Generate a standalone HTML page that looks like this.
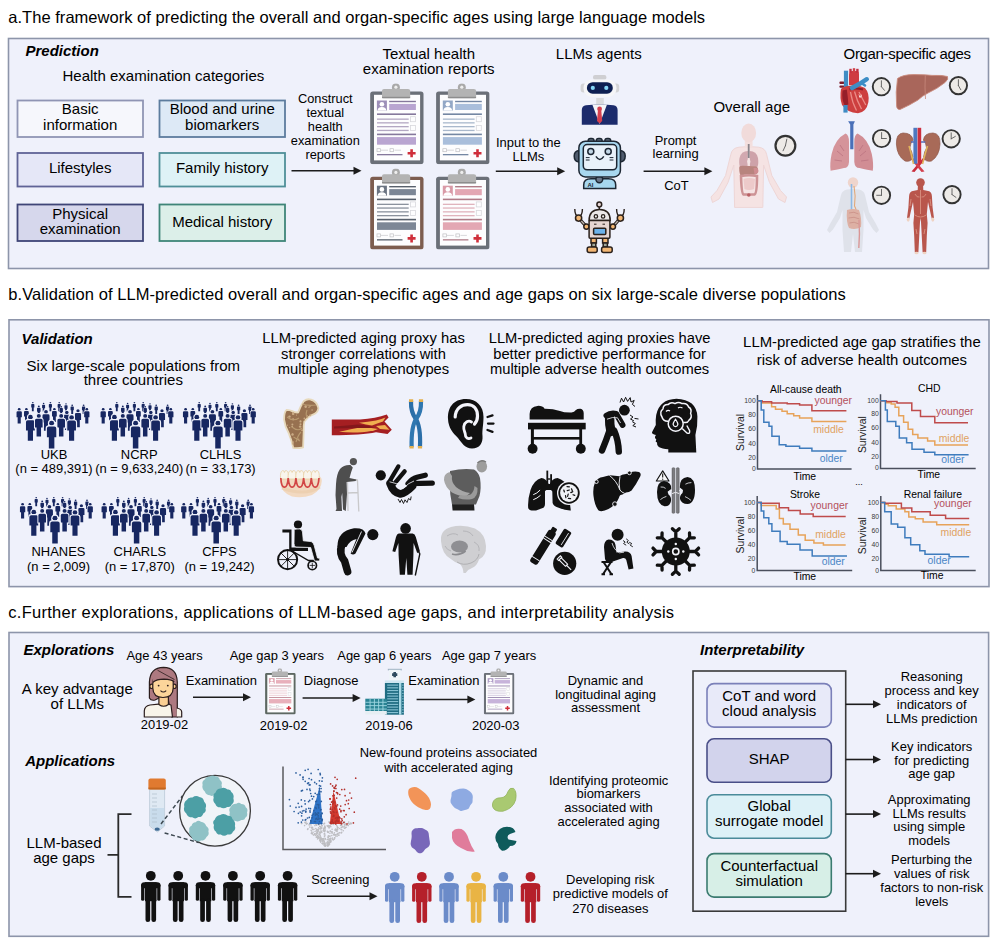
<!DOCTYPE html>
<html><head><meta charset="utf-8"><style>
html,body{margin:0;padding:0;background:#fff;overflow:hidden;}
svg{display:block;font-family:"Liberation Sans", sans-serif;}
</style></head><body>
<svg width="1000" height="947" viewBox="0 0 1000 947">
<defs>
<symbol id="person" viewBox="-20 0 40 100" overflow="visible" stroke="#eff1fb" stroke-width="9" paint-order="stroke">
 <circle cx="0" cy="9" r="9"/>
 <path d="M-17,28 Q-17,21 -10,21 L10,21 Q17,21 17,28 L17,60 L10,60 L10,100 L-10,100 L-10,60 L-17,60 Z"/>
</symbol>
</defs>
<text x="8.3" y="22.8" font-size="16.5" textLength="696.8" lengthAdjust="spacing">a.The framework of predicting the overall and organ-specific ages using large language models</text>
<text x="8.3" y="299.6" font-size="16.5" textLength="837.5" lengthAdjust="spacing">b.Validation of LLM-predicted overall and organ-specific ages and age gaps on six large-scale diverse populations</text>
<text x="8.3" y="617.8" font-size="16.5" textLength="665.8" lengthAdjust="spacing">c.Further explorations, applications of LLM-based age gaps, and interpretability analysis</text>
<rect x="8.5" y="38.5" width="980.0" height="230.0" fill="#eff1fb" stroke="#8d95aa" stroke-width="1.6"/>
<rect x="9" y="319.8" width="980" height="266.8" fill="#eff1fb" stroke="#8d95aa" stroke-width="1.6"/>
<rect x="9" y="632.5" width="979.6" height="303.79999999999995" fill="#eff1fb" stroke="#8d95aa" stroke-width="1.6"/>
<text x="25.5" y="56.4" font-size="15.0" font-weight="bold" font-style="italic">Prediction</text>
<text x="163.4" y="81.0" font-size="15.0" text-anchor="middle">Health examination categories</text>
<rect x="17.5" y="100.5" width="125.5" height="36.5" fill="#f6f7fc" stroke="#9095b4" stroke-width="1.8"/>
<text x="80.2" y="114.3" font-size="15.0" text-anchor="middle">Basic</text>
<text x="80.2" y="129.8" font-size="15.0" text-anchor="middle">information</text>
<rect x="159.5" y="100.5" width="125.5" height="36.5" fill="#dde9f6" stroke="#5d7c9e" stroke-width="1.8"/>
<text x="222.2" y="114.3" font-size="15.0" text-anchor="middle">Blood and urine</text>
<text x="222.2" y="129.8" font-size="15.0" text-anchor="middle">biomarkers</text>
<rect x="17.5" y="153" width="125.5" height="33.5" fill="#e5e7f7" stroke="#5f6396" stroke-width="1.8"/>
<text x="80.2" y="173.2" font-size="15.0" text-anchor="middle">Lifestyles</text>
<rect x="159.5" y="153" width="125.5" height="33.5" fill="#def2f6" stroke="#4f8f98" stroke-width="1.8"/>
<text x="222.2" y="173.2" font-size="15.0" text-anchor="middle">Family history</text>
<rect x="17.5" y="204.5" width="125.5" height="36.5" fill="#d6d7ec" stroke="#3f4577" stroke-width="1.8"/>
<text x="80.2" y="219.0" font-size="15.0" text-anchor="middle">Physical</text>
<text x="80.2" y="234.2" font-size="15.0" text-anchor="middle">examination</text>
<rect x="159.5" y="204.5" width="125.5" height="36.5" fill="#dcefe9" stroke="#3f8578" stroke-width="1.8"/>
<text x="222.2" y="226.7" font-size="15.0" text-anchor="middle">Medical history</text>
<text x="325.3" y="102.8" font-size="12.8" text-anchor="middle">Construct</text>
<text x="325.3" y="116.8" font-size="12.8" text-anchor="middle">textual</text>
<text x="325.3" y="130.7" font-size="12.8" text-anchor="middle">health</text>
<text x="325.3" y="144.6" font-size="12.8" text-anchor="middle">examination</text>
<text x="325.3" y="158.6" font-size="12.8" text-anchor="middle">reports</text>
<line x1="291.5" y1="170.8" x2="354.5" y2="170.8" stroke="#1c1c1c" stroke-width="1.6"/>
<path d="M361.5,170.8 L353.5,166.8 L353.5,174.8 Z" fill="#1c1c1c"/>
<text x="428.7" y="58.6" font-size="15.0" text-anchor="middle">Textual health</text>
<text x="428.7" y="74.3" font-size="15.0" text-anchor="middle">examination reports</text>
<text x="598.8" y="59.2" font-size="15.0" text-anchor="middle">LLMs agents</text>
<text x="528.4" y="147.2" font-size="12.95" text-anchor="middle">Input to the</text>
<text x="528.4" y="161.0" font-size="12.95" text-anchor="middle">LLMs</text>
<line x1="495.8" y1="171.2" x2="558.2" y2="171.2" stroke="#1c1c1c" stroke-width="1.6"/>
<path d="M565.2,171.2 L557.2,167.2 L557.2,175.2 Z" fill="#1c1c1c"/>
<text x="675.6" y="145.0" font-size="12.95" text-anchor="middle">Prompt</text>
<text x="675.6" y="158.4" font-size="12.95" text-anchor="middle">learning</text>
<line x1="643.6" y1="171.2" x2="705.4" y2="171.2" stroke="#1c1c1c" stroke-width="1.6"/>
<path d="M712.4,171.2 L704.4,167.2 L704.4,175.2 Z" fill="#1c1c1c"/>
<text x="676.4" y="190.4" font-size="12.95" text-anchor="middle">CoT</text>
<text x="751.8" y="112.0" font-size="15.0" text-anchor="middle">Overall age</text>
<text x="843.6" y="58.7" font-size="15.0" textLength="127.3" lengthAdjust="spacing">Organ-specific ages</text>
<text x="21.6" y="343.5" font-size="15.0" font-weight="bold" font-style="italic">Validation</text>
<text x="133.3" y="370.8" font-size="15.0" text-anchor="middle">Six large-scale populations from</text>
<text x="133.3" y="385.4" font-size="15.0" text-anchor="middle">three countries</text>
<text x="363.5" y="343.4" font-size="14.75" text-anchor="middle">LLM-predicted aging proxy has</text>
<text x="363.5" y="358.5" font-size="14.75" text-anchor="middle">stronger correlations with</text>
<text x="363.5" y="373.6" font-size="14.75" text-anchor="middle">multiple aging phenotypes</text>
<text x="599.6" y="343.4" font-size="14.72" text-anchor="middle">LLM-predicted aging proxies have</text>
<text x="599.6" y="358.5" font-size="14.72" text-anchor="middle">better predictive performance for</text>
<text x="599.6" y="373.6" font-size="14.72" text-anchor="middle">multiple adverse health outcomes</text>
<text x="861.9" y="346.8" font-size="14.9" text-anchor="middle">LLM-predicted age gap stratifies the</text>
<text x="861.9" y="364.6" font-size="14.9" text-anchor="middle">risk of adverse health outcomes</text>
<text x="54.0" y="458.5" font-size="12.95" text-anchor="middle">UKB</text>
<text x="54.0" y="472.9" font-size="12.95" text-anchor="middle">(n = 489,391)</text>
<text x="139.2" y="458.5" font-size="12.95" text-anchor="middle">NCRP</text>
<text x="139.2" y="472.9" font-size="12.95" text-anchor="middle">(n = 9,633,240)</text>
<text x="220.6" y="458.5" font-size="12.95" text-anchor="middle">CLHLS</text>
<text x="220.6" y="472.9" font-size="12.95" text-anchor="middle">(n = 33,173)</text>
<text x="58.5" y="556.3" font-size="12.95" text-anchor="middle">NHANES</text>
<text x="58.5" y="570.7" font-size="12.95" text-anchor="middle">(n = 2,009)</text>
<text x="139.8" y="556.3" font-size="12.95" text-anchor="middle">CHARLS</text>
<text x="139.8" y="570.7" font-size="12.95" text-anchor="middle">(n = 17,870)</text>
<text x="219.5" y="556.3" font-size="12.95" text-anchor="middle">CFPS</text>
<text x="219.5" y="570.7" font-size="12.95" text-anchor="middle">(n = 19,242)</text>
<text x="23.4" y="655.1" font-size="15.0" font-weight="bold" font-style="italic">Explorations</text>
<text x="164.5" y="660.3" font-size="12.95" text-anchor="middle">Age 43 years</text>
<text x="77.3" y="694.1" font-size="15.0" text-anchor="middle">A key advantage</text>
<text x="77.3" y="708.9" font-size="15.0" text-anchor="middle">of LLMs</text>
<text x="164.5" y="729.2" font-size="12.95" text-anchor="middle">2019-02</text>
<text x="221.4" y="685.0" font-size="12.95" text-anchor="middle">Examination</text>
<line x1="193" y1="697.2" x2="244" y2="697.2" stroke="#1c1c1c" stroke-width="1.6"/>
<path d="M251,697.2 L243,693.2 L243,701.2 Z" fill="#1c1c1c"/>
<text x="276.8" y="660.0" font-size="12.95" text-anchor="middle">Age gap 3 years</text>
<text x="283.6" y="730.0" font-size="12.95" text-anchor="middle">2019-02</text>
<text x="331.2" y="684.6" font-size="12.95" text-anchor="middle">Diagnose</text>
<line x1="302.6" y1="698" x2="353.6" y2="698" stroke="#1c1c1c" stroke-width="1.6"/>
<path d="M360.6,698 L352.6,694 L352.6,702 Z" fill="#1c1c1c"/>
<text x="384.4" y="659.6" font-size="12.95" text-anchor="middle">Age gap 6 years</text>
<text x="389.0" y="730.0" font-size="12.95" text-anchor="middle">2019-06</text>
<text x="443.9" y="684.6" font-size="12.95" text-anchor="middle">Examination</text>
<line x1="416.6" y1="699.5" x2="468.4" y2="699.5" stroke="#1c1c1c" stroke-width="1.6"/>
<path d="M475.4,699.5 L467.4,695.5 L467.4,703.5 Z" fill="#1c1c1c"/>
<text x="489.1" y="659.8" font-size="12.95" text-anchor="middle">Age gap 7 years</text>
<text x="495.7" y="730.0" font-size="12.95" text-anchor="middle">2020-03</text>
<text x="605.5" y="685.0" font-size="12.95" text-anchor="middle">Dynamic and</text>
<text x="605.5" y="698.7" font-size="12.95" text-anchor="middle">longitudinal aging</text>
<text x="605.5" y="712.4" font-size="12.95" text-anchor="middle">assessment</text>
<text x="700.0" y="655.1" font-size="15.0" font-weight="bold" font-style="italic">Interpretability</text>
<rect x="693" y="671" width="152.7" height="240.2" fill="none" stroke="#3a3a3a" stroke-width="1.6"/>
<rect x="707" y="683.6" width="124.3" height="43.5" rx="7" fill="#e8eaf9" stroke="#7b80b9" stroke-width="1.6"/>
<text x="769.2" y="700.7" font-size="15.0" text-anchor="middle">CoT and word</text>
<text x="769.2" y="715.8" font-size="15.0" text-anchor="middle">cloud analysis</text>
<rect x="707" y="738.8" width="124.3" height="43.5" rx="7" fill="#d2d3ec" stroke="#4a4f88" stroke-width="1.6"/>
<text x="769.2" y="764.0" font-size="15.0" text-anchor="middle">SHAP</text>
<rect x="707" y="794.7" width="124.3" height="43.5" rx="7" fill="#ddf1f7" stroke="#4b8b9a" stroke-width="1.6"/>
<text x="769.2" y="811.4" font-size="15.0" text-anchor="middle">Global</text>
<text x="769.2" y="825.8" font-size="15.0" text-anchor="middle">surrogate model</text>
<rect x="707" y="853.6" width="124.3" height="43.5" rx="7" fill="#d7efe7" stroke="#3b7b70" stroke-width="1.6"/>
<text x="769.2" y="871.0" font-size="15.0" text-anchor="middle">Counterfactual</text>
<text x="769.2" y="886.0" font-size="15.0" text-anchor="middle">simulation</text>
<line x1="845.7" y1="704.3" x2="874" y2="704.3" stroke="#1c1c1c" stroke-width="1.6"/>
<path d="M881,704.3 L873,700.3 L873,708.3 Z" fill="#1c1c1c"/>
<line x1="845.7" y1="759.5" x2="874" y2="759.5" stroke="#1c1c1c" stroke-width="1.6"/>
<path d="M881,759.5 L873,755.5 L873,763.5 Z" fill="#1c1c1c"/>
<line x1="845.7" y1="814.1" x2="874" y2="814.1" stroke="#1c1c1c" stroke-width="1.6"/>
<path d="M881,814.1 L873,810.1 L873,818.1 Z" fill="#1c1c1c"/>
<line x1="845.7" y1="873.7" x2="874" y2="873.7" stroke="#1c1c1c" stroke-width="1.6"/>
<path d="M881,873.7 L873,869.7 L873,877.7 Z" fill="#1c1c1c"/>
<text x="931.7" y="681.0" font-size="12.95" text-anchor="middle">Reasoning</text>
<text x="931.7" y="695.0" font-size="12.95" text-anchor="middle">process and key</text>
<text x="931.7" y="708.9" font-size="12.95" text-anchor="middle">indicators of</text>
<text x="931.7" y="722.9" font-size="12.95" text-anchor="middle">LLMs prediction</text>
<text x="931.7" y="751.2" font-size="12.95" text-anchor="middle">Key indicators</text>
<text x="931.7" y="764.6" font-size="12.95" text-anchor="middle">for predicting</text>
<text x="931.7" y="778.0" font-size="12.95" text-anchor="middle">age gap</text>
<text x="929.2" y="804.3" font-size="12.95" text-anchor="middle">Approximating</text>
<text x="929.2" y="817.8" font-size="12.95" text-anchor="middle">LLMs results</text>
<text x="929.2" y="831.4" font-size="12.95" text-anchor="middle">using simple</text>
<text x="929.2" y="844.9" font-size="12.95" text-anchor="middle">models</text>
<text x="931.7" y="864.3" font-size="12.95" text-anchor="middle">Perturbing the</text>
<text x="931.7" y="878.3" font-size="12.95" text-anchor="middle">values of risk</text>
<text x="931.7" y="892.3" font-size="12.95" text-anchor="middle">factors to non-risk</text>
<text x="931.7" y="906.3" font-size="12.95" text-anchor="middle">levels</text>
<text x="25.2" y="766.3" font-size="15.0" font-weight="bold" font-style="italic">Applications</text>
<text x="448.5" y="756.8" font-size="12.95" text-anchor="middle">New-found proteins associated</text>
<text x="448.5" y="771.5" font-size="12.95" text-anchor="middle">with accelerated aging</text>
<text x="608.6" y="784.6" font-size="12.95" text-anchor="middle">Identifying proteomic</text>
<text x="608.6" y="798.3" font-size="12.95" text-anchor="middle">biomarkers</text>
<text x="608.6" y="812.0" font-size="12.95" text-anchor="middle">associated with</text>
<text x="608.6" y="825.7" font-size="12.95" text-anchor="middle">accelerated aging</text>
<text x="64.0" y="847.8" font-size="15.0" text-anchor="middle">LLM-based</text>
<text x="64.0" y="862.5" font-size="15.0" text-anchor="middle">age gaps</text>
<text x="340.3" y="883.8" font-size="12.95" text-anchor="middle">Screening</text>
<line x1="307" y1="896.2" x2="370.5" y2="896.2" stroke="#1c1c1c" stroke-width="1.6"/>
<path d="M377.5,896.2 L369.5,892.2 L369.5,900.2 Z" fill="#1c1c1c"/>
<text x="610.3" y="884.3" font-size="12.95" text-anchor="middle">Developing risk</text>
<text x="610.3" y="898.4" font-size="12.95" text-anchor="middle">predictive models of</text>
<text x="610.3" y="912.5" font-size="12.95" text-anchor="middle">270 diseases</text>
<path d="M107.5,854.8 L118.3,854.8 M131.5,814.2 L118.3,814.2 L118.3,896.8 L131.5,896.8" fill="none" stroke="#2a2a2a" stroke-width="1.8"/>
<defs>
<g id="man">
 <circle cx="0" cy="0" r="4.9"/>
 <rect x="-9.7" y="6.4" width="19.4" height="6" rx="3.2"/>
 <rect x="-9.7" y="8" width="3.3" height="17" rx="1.65"/>
 <rect x="6.4" y="8" width="3.3" height="17" rx="1.65"/>
 <rect x="-5.8" y="6.4" width="11.6" height="19"/>
 <rect x="-5.3" y="23" width="4.7" height="23.2" rx="2.3"/>
 <rect x="0.6" y="23" width="4.7" height="23.2" rx="2.3"/>
</g>
</defs>
<use href="#man" x="150.8" y="875.8" fill="#111"/>
<use href="#man" x="178.2" y="875.8" fill="#111"/>
<use href="#man" x="205.5" y="875.8" fill="#111"/>
<use href="#man" x="232.9" y="875.8" fill="#111"/>
<use href="#man" x="260.2" y="875.8" fill="#111"/>
<use href="#man" x="287.6" y="875.8" fill="#111"/>
<use href="#man" x="394.7" y="876.8" fill="#6b8bc9"/>
<use href="#man" x="421.8" y="876.8" fill="#b5202a"/>
<use href="#man" x="449.0" y="876.8" fill="#6b8bc9"/>
<use href="#man" x="476.1" y="876.8" fill="#e9b444"/>
<use href="#man" x="503.3" y="876.8" fill="#6b8bc9"/>
<use href="#man" x="530.5" y="876.8" fill="#b5202a"/>
<defs><g id="crowd"><use href="#person" x="16.96" y="4.00" width="3.68" height="9.20"/><use href="#person" x="27.84" y="4.80" width="3.52" height="8.80"/><use href="#person" x="34.56" y="4.00" width="3.68" height="9.20"/><use href="#person" x="43.36" y="4.00" width="3.68" height="9.20"/><use href="#person" x="50.16" y="5.20" width="3.68" height="9.20"/><use href="#person" x="67.68" y="6.40" width="3.84" height="9.60"/><use href="#person" x="22.72" y="7.60" width="4.16" height="10.40"/><use href="#person" x="56.28" y="6.40" width="3.84" height="9.60"/><use href="#person" x="45.20" y="8.00" width="4.00" height="10.00"/><use href="#person" x="2.08" y="10.00" width="6.24" height="15.60"/><use href="#person" x="9.60" y="10.00" width="5.60" height="14.00"/><use href="#person" x="37.60" y="10.00" width="5.60" height="14.00"/><use href="#person" x="69.68" y="10.00" width="6.24" height="15.60"/><use href="#person" x="27.84" y="12.00" width="8.32" height="20.80"/><use href="#person" x="48.96" y="12.80" width="7.68" height="19.20"/><use href="#person" x="60.40" y="11.20" width="7.20" height="18.00"/><use href="#person" x="11.20" y="16.80" width="10.40" height="26.00"/><use href="#person" x="20.32" y="16.00" width="8.96" height="22.40"/><use href="#person" x="42.72" y="16.00" width="8.96" height="22.40"/><use href="#person" x="52.48" y="17.20" width="10.24" height="25.60"/><use href="#person" x="32.08" y="22.80" width="11.04" height="27.60"/></g></defs>
<use href="#crowd" transform="translate(14,398)" fill="#172761"/>
<use href="#crowd" transform="translate(98,398)" fill="#172761"/>
<use href="#crowd" transform="translate(180.4,398)" fill="#172761"/>
<use href="#crowd" transform="translate(17.4,493)" fill="#172761"/>
<use href="#crowd" transform="translate(99,493)" fill="#172761"/>
<use href="#crowd" transform="translate(178.6,493)" fill="#172761"/>
<path d="M757.5,395 V469 H851.6" fill="none" stroke="#4a4f5c" stroke-width="1.5"/>
<text x="755.7" y="403.2" font-size="6.8" text-anchor="end" fill="#3a3a3a">100</text>
<text x="755.7" y="417.3" font-size="6.8" text-anchor="end" fill="#3a3a3a">80</text>
<text x="755.7" y="431.2" font-size="6.8" text-anchor="end" fill="#3a3a3a">60</text>
<text x="755.7" y="446.1" font-size="6.8" text-anchor="end" fill="#3a3a3a">40</text>
<text x="755.7" y="459.8" font-size="6.8" text-anchor="end" fill="#3a3a3a">20</text>
<text x="755.7" y="470.8" font-size="6.8" text-anchor="end" fill="#3a3a3a">0</text>
<text x="805.8" y="392.7" font-size="10.4" text-anchor="middle">All-cause death</text>
<text x="804.8" y="479.5" font-size="10.4" text-anchor="middle">Time</text>
<text x="0" y="0" font-size="10.4" text-anchor="middle" fill="#1c1c1c" transform="translate(743.8,432.5) rotate(-90)">Survival</text>
<path d="M757.5,400.8 H761.9 V403.0 H771.6 V406.7 H775.5 V409.3 H782.0 V411.2 H787.2 V413.8 H793.7 V415.8 H799.6 V418.0 H811.9 V421.4 H846.4" fill="none" stroke="#e7a35a" stroke-width="1.5" stroke-linejoin="miter"/>
<path d="M757.5,400.8 H761.9 V401.8 H771.6 V402.9 H787.2 V403.8 H799.6 V404.9 H811.9 V410.8 H846.4" fill="none" stroke="#bf4b4b" stroke-width="1.5" stroke-linejoin="miter"/>
<path d="M757.5,400.8 H761.2 V409.9 H763.8 V422.3 H769.0 V426.2 H771.9 V436.2 H779.2 V444.8 H785.9 V446.3 H799.6 V448.3 H811.9 V450.9 H846.4" fill="none" stroke="#3f7cbd" stroke-width="1.5" stroke-linejoin="miter"/>
<text x="814.5" y="404.0" font-size="10.4" fill="#b4505c">younger</text>
<text x="813.2" y="433.3" font-size="10.4" fill="#e0a262">middle</text>
<text x="819.7" y="462.2" font-size="10.4" fill="#4a86c6">older</text>
<path d="M880.5,394.3 V468.4 H975.7" fill="none" stroke="#4a4f5c" stroke-width="1.5"/>
<text x="878.7" y="403.2" font-size="6.8" text-anchor="end" fill="#3a3a3a">100</text>
<text x="878.7" y="416.4" font-size="6.8" text-anchor="end" fill="#3a3a3a">80</text>
<text x="878.7" y="430.4" font-size="6.8" text-anchor="end" fill="#3a3a3a">60</text>
<text x="878.7" y="444.8" font-size="6.8" text-anchor="end" fill="#3a3a3a">40</text>
<text x="878.7" y="459.1" font-size="6.8" text-anchor="end" fill="#3a3a3a">20</text>
<text x="878.7" y="469.8" font-size="6.8" text-anchor="end" fill="#3a3a3a">0</text>
<text x="929.3" y="391.7" font-size="10.4" text-anchor="middle">CHD</text>
<text x="928.8" y="478.2" font-size="10.4" text-anchor="middle">Time</text>
<text x="0" y="0" font-size="10.4" text-anchor="middle" fill="#1c1c1c" transform="translate(866.4,434.6) rotate(-90)">Survival</text>
<path d="M880.5,400.8 H886.0 V402.8 H891.2 V404.0 H895.1 V407.3 H898.8 V415.8 H903.6 V422.3 H908.1 V429.2 H912.7 V434.4 H917.9 V437.9 H927.6 V441.1 H934.8 V445.0 H968.0" fill="none" stroke="#e7a35a" stroke-width="1.5" stroke-linejoin="miter"/>
<path d="M880.5,400.8 H886.0 V401.5 H897.0 V403.1 H911.8 V410.6 H920.5 V416.4 H934.8 V422.7 H968.0" fill="none" stroke="#bf4b4b" stroke-width="1.5" stroke-linejoin="miter"/>
<path d="M880.5,400.8 H885.4 V409.9 H887.3 V421.6 H895.8 V426.2 H899.3 V437.9 H906.6 V442.7 H912.0 V449.2 H924.0 V452.2 H934.8 V454.8 H968.6" fill="none" stroke="#3f7cbd" stroke-width="1.5" stroke-linejoin="miter"/>
<text x="936.0" y="414.5" font-size="10.4" fill="#b4505c">younger</text>
<text x="938.7" y="442.2" font-size="10.4" fill="#e0a262">middle</text>
<text x="941.3" y="463.2" font-size="10.4" fill="#4a86c6">older</text>
<path d="M757.2,496 V570.6 H852.2" fill="none" stroke="#4a4f5c" stroke-width="1.5"/>
<text x="755.4" y="505.0" font-size="6.8" text-anchor="end" fill="#3a3a3a">100</text>
<text x="755.4" y="518.9" font-size="6.8" text-anchor="end" fill="#3a3a3a">80</text>
<text x="755.4" y="532.7" font-size="6.8" text-anchor="end" fill="#3a3a3a">60</text>
<text x="755.4" y="547.2" font-size="6.8" text-anchor="end" fill="#3a3a3a">40</text>
<text x="755.4" y="560.9" font-size="6.8" text-anchor="end" fill="#3a3a3a">20</text>
<text x="755.4" y="572.6" font-size="6.8" text-anchor="end" fill="#3a3a3a">0</text>
<text x="804.9" y="497.6" font-size="10.4" text-anchor="middle">Stroke</text>
<text x="804.8" y="580.0" font-size="10.4" text-anchor="middle">Time</text>
<text x="0" y="0" font-size="10.4" text-anchor="middle" fill="#1c1c1c" transform="translate(743.8,535) rotate(-90)">Survival</text>
<path d="M757.2,502.6 H761.2 V505.5 H776.2 V509.1 H779.4 V518.5 H783.3 V524.0 H790.0 V529.2 H798.3 V535.1 H805.2 V540.3 H813.9 V542.9 H823.4 V545.1 H845.7" fill="none" stroke="#e7a35a" stroke-width="1.5" stroke-linejoin="miter"/>
<path d="M757.2,502.6 H761.2 V503.2 H779.2 V507.8 H788.5 V510.4 H800.2 V513.9 H813.2 V516.6 H845.7" fill="none" stroke="#bf4b4b" stroke-width="1.5" stroke-linejoin="miter"/>
<path d="M757.2,502.6 H761.2 V511.0 H763.8 V517.8 H768.8 V523.8 H771.9 V531.2 H780.1 V541.6 H787.2 V544.2 H800.0 V550.0 H812.2 V555.9 H847.0" fill="none" stroke="#3f7cbd" stroke-width="1.5" stroke-linejoin="miter"/>
<text x="810.6" y="509.0" font-size="10.4" fill="#b4505c">younger</text>
<text x="815.2" y="537.7" font-size="10.4" fill="#e0a262">middle</text>
<text x="821.7" y="565.0" font-size="10.4" fill="#4a86c6">older</text>
<path d="M880.8,496 V570.6 H975.7" fill="none" stroke="#4a4f5c" stroke-width="1.5"/>
<text x="879.0" y="505.0" font-size="6.8" text-anchor="end" fill="#3a3a3a">100</text>
<text x="879.0" y="518.6" font-size="6.8" text-anchor="end" fill="#3a3a3a">80</text>
<text x="879.0" y="532.9" font-size="6.8" text-anchor="end" fill="#3a3a3a">60</text>
<text x="879.0" y="547.2" font-size="6.8" text-anchor="end" fill="#3a3a3a">40</text>
<text x="879.0" y="561.3" font-size="6.8" text-anchor="end" fill="#3a3a3a">20</text>
<text x="879.0" y="572.6" font-size="6.8" text-anchor="end" fill="#3a3a3a">0</text>
<text x="932.8" y="497.7" font-size="10.4" text-anchor="middle">Renal failure</text>
<text x="932.2" y="579.3" font-size="10.4" text-anchor="middle">Time</text>
<text x="0" y="0" font-size="10.4" text-anchor="middle" fill="#1c1c1c" transform="translate(866.4,535.7) rotate(-90)">Survival</text>
<path d="M880.8,502.6 H884.7 V504.2 H888.3 V505.8 H896.2 V509.0 H904.9 V511.7 H908.8 V516.9 H915.3 V518.8 H923.1 V522.1 H936.7 V524.7 H969.2" fill="none" stroke="#e7a35a" stroke-width="1.5" stroke-linejoin="miter"/>
<path d="M880.8,502.6 H884.7 V503.2 H901.4 V508.1 H911.8 V511.7 H930.2 V515.2 H945.6 V518.5 H969.2" fill="none" stroke="#bf4b4b" stroke-width="1.5" stroke-linejoin="miter"/>
<path d="M880.8,502.6 H884.7 V511.7 H891.2 V524.0 H897.7 V527.3 H904.9 V537.7 H910.7 V544.8 H919.8 V550.7 H925.0 V554.2 H949.1 V556.8 H969.2" fill="none" stroke="#3f7cbd" stroke-width="1.5" stroke-linejoin="miter"/>
<text x="934.1" y="506.8" font-size="10.4" fill="#b4505c">younger</text>
<text x="940.6" y="536.4" font-size="10.4" fill="#e0a262">middle</text>
<text x="927.6" y="563.7" font-size="10.4" fill="#4a86c6">older</text>
<text x="859.0" y="485.0" font-size="9" text-anchor="middle">...</text>
<defs><symbol id="cbP" viewBox="5 5 54 81"><rect x="5.2" y="13.3" width="53.3" height="72.7" rx="2.6" fill="#6b7078"/><rect x="9" y="16.6" width="46.1" height="65.6" fill="#fdfdfe"/><circle cx="30.9" cy="9.2" r="4" fill="#a9a9a9"/><circle cx="30.9" cy="9" r="1.6" fill="#eeeeee"/><path d="M17,12.5 Q17,10.8 19,10.8 L43,10.8 Q45.2,10.8 45.2,12.5 L45.2,18.5 Q45.2,20 43.5,20 L18.7,20 Q17,20 17,18.5 Z" fill="#b3b3b3"/><rect x="17" y="18.6" width="28.2" height="1.4" fill="#8d8d8d"/><rect x="11.9" y="22.3" width="10" height="10" fill="#9d8fb8"/><circle cx="16.9" cy="26" r="2.3" fill="#fff"/><path d="M12.6,32.3 Q12.6,28.8 16.9,28.8 Q21.2,28.8 21.2,32.3 Z" fill="#fff"/><rect x="24.2" y="22.6" width="26.7" height="1.4" fill="#85789c"/><rect x="24.2" y="25.7" width="26.7" height="6.1" fill="#b9a5d1"/><rect x="12" y="35.2" width="39" height="1.6" fill="#85789c"/><rect x="12" y="40.3" width="31.7" height="1.3" fill="#b3a7c3"/><rect x="12" y="44" width="31.7" height="1.3" fill="#b3a7c3"/><rect x="12" y="47.8" width="31.7" height="1.3" fill="#b3a7c3"/><rect x="12" y="51.6" width="31.7" height="1.3" fill="#b3a7c3"/><rect x="45.4" y="38.5" width="5" height="5" fill="none" stroke="#d8d8dc" stroke-width="0.8"/><rect x="45.4" y="47.2" width="5" height="5" fill="none" stroke="#d8d8dc" stroke-width="0.8"/><rect x="12" y="55.4" width="39" height="1.6" fill="#85789c"/><rect x="12" y="58.9" width="39" height="7.6" fill="#b9a5d1"/><rect x="12" y="70.5" width="3.5" height="3" fill="none" stroke="#c0c0c4" stroke-width="0.7"/><rect x="25" y="70.5" width="3.5" height="3" fill="none" stroke="#c0c0c4" stroke-width="0.7"/><path d="M16,72 H23 M29.5,72 H36" stroke="#c8c8cc" stroke-width="0.7"/><rect x="12" y="75.8" width="25.5" height="1.3" fill="#85789c"/><path d="M45.3,71 h2.6 v2.7 h2.7 v2.6 h-2.7 v2.7 h-2.6 v-2.7 h-2.7 v-2.6 h2.7 Z" fill="#cf2e3a"/></symbol><symbol id="cbB" viewBox="5 5 54 81"><rect x="5.2" y="13.3" width="53.3" height="72.7" rx="2.6" fill="#6b7078"/><rect x="9" y="16.6" width="46.1" height="65.6" fill="#fdfdfe"/><circle cx="30.9" cy="9.2" r="4" fill="#a9a9a9"/><circle cx="30.9" cy="9" r="1.6" fill="#eeeeee"/><path d="M17,12.5 Q17,10.8 19,10.8 L43,10.8 Q45.2,10.8 45.2,12.5 L45.2,18.5 Q45.2,20 43.5,20 L18.7,20 Q17,20 17,18.5 Z" fill="#b3b3b3"/><rect x="17" y="18.6" width="28.2" height="1.4" fill="#8d8d8d"/><rect x="11.9" y="22.3" width="10" height="10" fill="#93a8c6"/><circle cx="16.9" cy="26" r="2.3" fill="#fff"/><path d="M12.6,32.3 Q12.6,28.8 16.9,28.8 Q21.2,28.8 21.2,32.3 Z" fill="#fff"/><rect x="24.2" y="22.6" width="26.7" height="1.4" fill="#7487a3"/><rect x="24.2" y="25.7" width="26.7" height="6.1" fill="#a9bedb"/><rect x="12" y="35.2" width="39" height="1.6" fill="#7487a3"/><rect x="12" y="40.3" width="31.7" height="1.3" fill="#a9b8cc"/><rect x="12" y="44" width="31.7" height="1.3" fill="#a9b8cc"/><rect x="12" y="47.8" width="31.7" height="1.3" fill="#a9b8cc"/><rect x="12" y="51.6" width="31.7" height="1.3" fill="#a9b8cc"/><rect x="45.4" y="38.5" width="5" height="5" fill="none" stroke="#d8d8dc" stroke-width="0.8"/><rect x="45.4" y="47.2" width="5" height="5" fill="none" stroke="#d8d8dc" stroke-width="0.8"/><rect x="12" y="55.4" width="39" height="1.6" fill="#7487a3"/><rect x="12" y="58.9" width="39" height="7.6" fill="#a9bedb"/><rect x="12" y="70.5" width="3.5" height="3" fill="none" stroke="#c0c0c4" stroke-width="0.7"/><rect x="25" y="70.5" width="3.5" height="3" fill="none" stroke="#c0c0c4" stroke-width="0.7"/><path d="M16,72 H23 M29.5,72 H36" stroke="#c8c8cc" stroke-width="0.7"/><rect x="12" y="75.8" width="25.5" height="1.3" fill="#7487a3"/><path d="M45.3,71 h2.6 v2.7 h2.7 v2.6 h-2.7 v2.7 h-2.6 v-2.7 h-2.7 v-2.6 h2.7 Z" fill="#cf2e3a"/></symbol><symbol id="cbG" viewBox="5 5 54 81"><rect x="5.2" y="13.3" width="53.3" height="72.7" rx="2.6" fill="#7d5d4f"/><rect x="9" y="16.6" width="46.1" height="65.6" fill="#fdfdfe"/><circle cx="30.9" cy="9.2" r="4" fill="#a9a9a9"/><circle cx="30.9" cy="9" r="1.6" fill="#eeeeee"/><path d="M17,12.5 Q17,10.8 19,10.8 L43,10.8 Q45.2,10.8 45.2,12.5 L45.2,18.5 Q45.2,20 43.5,20 L18.7,20 Q17,20 17,18.5 Z" fill="#b3b3b3"/><rect x="17" y="18.6" width="28.2" height="1.4" fill="#8d8d8d"/><rect x="11.9" y="22.3" width="10" height="10" fill="#6b7482"/><circle cx="16.9" cy="26" r="2.3" fill="#fff"/><path d="M12.6,32.3 Q12.6,28.8 16.9,28.8 Q21.2,28.8 21.2,32.3 Z" fill="#fff"/><rect x="24.2" y="22.6" width="26.7" height="1.4" fill="#58606c"/><rect x="24.2" y="25.7" width="26.7" height="6.1" fill="#7d8796"/><rect x="12" y="35.2" width="39" height="1.6" fill="#58606c"/><rect x="12" y="40.3" width="31.7" height="1.3" fill="#8b929d"/><rect x="12" y="44" width="31.7" height="1.3" fill="#8b929d"/><rect x="12" y="47.8" width="31.7" height="1.3" fill="#8b929d"/><rect x="12" y="51.6" width="31.7" height="1.3" fill="#8b929d"/><rect x="45.4" y="38.5" width="5" height="5" fill="none" stroke="#d8d8dc" stroke-width="0.8"/><rect x="45.4" y="47.2" width="5" height="5" fill="none" stroke="#d8d8dc" stroke-width="0.8"/><rect x="12" y="55.4" width="39" height="1.6" fill="#58606c"/><rect x="12" y="58.9" width="39" height="7.6" fill="#7d8796"/><rect x="12" y="70.5" width="3.5" height="3" fill="none" stroke="#c0c0c4" stroke-width="0.7"/><rect x="25" y="70.5" width="3.5" height="3" fill="none" stroke="#c0c0c4" stroke-width="0.7"/><path d="M16,72 H23 M29.5,72 H36" stroke="#c8c8cc" stroke-width="0.7"/><rect x="12" y="75.8" width="25.5" height="1.3" fill="#58606c"/><path d="M45.3,71 h2.6 v2.7 h2.7 v2.6 h-2.7 v2.7 h-2.6 v-2.7 h-2.7 v-2.6 h2.7 Z" fill="#cf2e3a"/></symbol><symbol id="cbR" viewBox="5 5 54 81"><rect x="5.2" y="13.3" width="53.3" height="72.7" rx="2.6" fill="#6b7078"/><rect x="9" y="16.6" width="46.1" height="65.6" fill="#fdfdfe"/><circle cx="30.9" cy="9.2" r="4" fill="#a9a9a9"/><circle cx="30.9" cy="9" r="1.6" fill="#eeeeee"/><path d="M17,12.5 Q17,10.8 19,10.8 L43,10.8 Q45.2,10.8 45.2,12.5 L45.2,18.5 Q45.2,20 43.5,20 L18.7,20 Q17,20 17,18.5 Z" fill="#b3b3b3"/><rect x="17" y="18.6" width="28.2" height="1.4" fill="#8d8d8d"/><rect x="11.9" y="22.3" width="10" height="10" fill="#d99aa7"/><circle cx="16.9" cy="26" r="2.3" fill="#fff"/><path d="M12.6,32.3 Q12.6,28.8 16.9,28.8 Q21.2,28.8 21.2,32.3 Z" fill="#fff"/><rect x="24.2" y="22.6" width="26.7" height="1.4" fill="#b07c88"/><rect x="24.2" y="25.7" width="26.7" height="6.1" fill="#e3a7b3"/><rect x="12" y="35.2" width="39" height="1.6" fill="#b07c88"/><rect x="12" y="40.3" width="31.7" height="1.3" fill="#e0b4bd"/><rect x="12" y="44" width="31.7" height="1.3" fill="#e0b4bd"/><rect x="12" y="47.8" width="31.7" height="1.3" fill="#e0b4bd"/><rect x="12" y="51.6" width="31.7" height="1.3" fill="#e0b4bd"/><rect x="45.4" y="38.5" width="5" height="5" fill="none" stroke="#d8d8dc" stroke-width="0.8"/><rect x="45.4" y="47.2" width="5" height="5" fill="none" stroke="#d8d8dc" stroke-width="0.8"/><rect x="12" y="55.4" width="39" height="1.6" fill="#b07c88"/><rect x="12" y="58.9" width="39" height="7.6" fill="#e3a7b3"/><rect x="12" y="70.5" width="3.5" height="3" fill="none" stroke="#c0c0c4" stroke-width="0.7"/><rect x="25" y="70.5" width="3.5" height="3" fill="none" stroke="#c0c0c4" stroke-width="0.7"/><path d="M16,72 H23 M29.5,72 H36" stroke="#c8c8cc" stroke-width="0.7"/><rect x="12" y="75.8" width="25.5" height="1.3" fill="#b07c88"/><path d="M45.3,71 h2.6 v2.7 h2.7 v2.6 h-2.7 v2.7 h-2.6 v-2.7 h-2.7 v-2.6 h2.7 Z" fill="#cf2e3a"/></symbol><symbol id="cbR2" viewBox="5 5 54 81"><rect x="5.2" y="13.3" width="53.3" height="72.7" rx="2.6" fill="#5d6862"/><rect x="9" y="16.6" width="46.1" height="65.6" fill="#fdfdfe"/><circle cx="30.9" cy="9.2" r="4" fill="#a9a9a9"/><circle cx="30.9" cy="9" r="1.6" fill="#eeeeee"/><path d="M17,12.5 Q17,10.8 19,10.8 L43,10.8 Q45.2,10.8 45.2,12.5 L45.2,18.5 Q45.2,20 43.5,20 L18.7,20 Q17,20 17,18.5 Z" fill="#b3b3b3"/><rect x="17" y="18.6" width="28.2" height="1.4" fill="#8d8d8d"/><rect x="11.9" y="22.3" width="10" height="10" fill="#dfa4b0"/><circle cx="16.9" cy="26" r="2.3" fill="#fff"/><path d="M12.6,32.3 Q12.6,28.8 16.9,28.8 Q21.2,28.8 21.2,32.3 Z" fill="#fff"/><rect x="24.2" y="22.6" width="26.7" height="1.4" fill="#c28e99"/><rect x="24.2" y="25.7" width="26.7" height="6.1" fill="#e8b0bb"/><rect x="12" y="35.2" width="39" height="1.6" fill="#c28e99"/><rect x="12" y="40.3" width="31.7" height="1.3" fill="#ebc3cb"/><rect x="12" y="44" width="31.7" height="1.3" fill="#ebc3cb"/><rect x="12" y="47.8" width="31.7" height="1.3" fill="#ebc3cb"/><rect x="12" y="51.6" width="31.7" height="1.3" fill="#ebc3cb"/><rect x="45.4" y="38.5" width="5" height="5" fill="none" stroke="#d8d8dc" stroke-width="0.8"/><rect x="45.4" y="47.2" width="5" height="5" fill="none" stroke="#d8d8dc" stroke-width="0.8"/><rect x="12" y="55.4" width="39" height="1.6" fill="#c28e99"/><rect x="12" y="58.9" width="39" height="7.6" fill="#e8b0bb"/><rect x="12" y="70.5" width="3.5" height="3" fill="none" stroke="#c0c0c4" stroke-width="0.7"/><rect x="25" y="70.5" width="3.5" height="3" fill="none" stroke="#c0c0c4" stroke-width="0.7"/><path d="M16,72 H23 M29.5,72 H36" stroke="#c8c8cc" stroke-width="0.7"/><rect x="12" y="75.8" width="25.5" height="1.3" fill="#c28e99"/><path d="M45.3,71 h2.6 v2.7 h2.7 v2.6 h-2.7 v2.7 h-2.6 v-2.7 h-2.7 v-2.6 h2.7 Z" fill="#cf2e3a"/></symbol><symbol id="cbP2" viewBox="5 5 54 81"><rect x="5.2" y="13.3" width="53.3" height="72.7" rx="2.6" fill="#6b7078"/><rect x="9" y="16.6" width="46.1" height="65.6" fill="#fdfdfe"/><circle cx="30.9" cy="9.2" r="4" fill="#a9a9a9"/><circle cx="30.9" cy="9" r="1.6" fill="#eeeeee"/><path d="M17,12.5 Q17,10.8 19,10.8 L43,10.8 Q45.2,10.8 45.2,12.5 L45.2,18.5 Q45.2,20 43.5,20 L18.7,20 Q17,20 17,18.5 Z" fill="#b3b3b3"/><rect x="17" y="18.6" width="28.2" height="1.4" fill="#8d8d8d"/><rect x="11.9" y="22.3" width="10" height="10" fill="#b09fc8"/><circle cx="16.9" cy="26" r="2.3" fill="#fff"/><path d="M12.6,32.3 Q12.6,28.8 16.9,28.8 Q21.2,28.8 21.2,32.3 Z" fill="#fff"/><rect x="24.2" y="22.6" width="26.7" height="1.4" fill="#9a88b0"/><rect x="24.2" y="25.7" width="26.7" height="6.1" fill="#c7b3da"/><rect x="12" y="35.2" width="39" height="1.6" fill="#9a88b0"/><rect x="12" y="40.3" width="31.7" height="1.3" fill="#cbbfd8"/><rect x="12" y="44" width="31.7" height="1.3" fill="#cbbfd8"/><rect x="12" y="47.8" width="31.7" height="1.3" fill="#cbbfd8"/><rect x="12" y="51.6" width="31.7" height="1.3" fill="#cbbfd8"/><rect x="45.4" y="38.5" width="5" height="5" fill="none" stroke="#d8d8dc" stroke-width="0.8"/><rect x="45.4" y="47.2" width="5" height="5" fill="none" stroke="#d8d8dc" stroke-width="0.8"/><rect x="12" y="55.4" width="39" height="1.6" fill="#9a88b0"/><rect x="12" y="58.9" width="39" height="7.6" fill="#c7b3da"/><rect x="12" y="70.5" width="3.5" height="3" fill="none" stroke="#c0c0c4" stroke-width="0.7"/><rect x="25" y="70.5" width="3.5" height="3" fill="none" stroke="#c0c0c4" stroke-width="0.7"/><path d="M16,72 H23 M29.5,72 H36" stroke="#c8c8cc" stroke-width="0.7"/><rect x="12" y="75.8" width="25.5" height="1.3" fill="#9a88b0"/><path d="M45.3,71 h2.6 v2.7 h2.7 v2.6 h-2.7 v2.7 h-2.6 v-2.7 h-2.7 v-2.6 h2.7 Z" fill="#cf2e3a"/></symbol></defs>
<use href="#cbP" x="370" y="83.2" width="54" height="81"/>
<use href="#cbB" x="435.9" y="83.2" width="54" height="81"/>
<use href="#cbG" x="370" y="168.4" width="54" height="81"/>
<use href="#cbR" x="435.9" y="168.4" width="54" height="81"/>
<use href="#cbR2" x="265" y="668.2" width="30.9" height="46.4"/>
<use href="#cbP2" x="483.7" y="668.2" width="30.9" height="46.4"/>
<g transform="translate(568,70)">
 <rect x="25" y="5.1" width="13.4" height="4.6" rx="2" fill="#cfcfd2"/>
 <rect x="12.6" y="13.5" width="6" height="9" rx="3" fill="#d4d4d6"/>
 <rect x="45.2" y="13.5" width="6" height="9" rx="3" fill="#d4d4d6"/>
 <rect x="15.5" y="9.4" width="33" height="17.6" rx="8.5" fill="#f6f6f8"/>
 <rect x="18.9" y="12.2" width="25.9" height="11.5" rx="5.7" fill="#0e1f52"/>
 <circle cx="24.8" cy="17.9" r="2.1" fill="#86d6f6"/>
 <circle cx="38.3" cy="17.9" r="2.1" fill="#86d6f6"/>
 <rect x="28.2" y="28" width="7.6" height="7" fill="#d9dadd"/>
 <path d="M13.8,54.7 L13.8,40 Q13.8,36 18,35.2 L27.5,34.4 L36,34.4 L45.5,35.2 Q49.6,36 49.6,40 L49.6,54.7 Z" fill="#1c2b6c"/>
 <path d="M24.3,34.4 L39,34.4 L31.6,54 Z" fill="#f4f5f8"/>
 <circle cx="31.6" cy="39" r="2.4" fill="#d5404f"/>
 <path d="M29.9,40.5 L33.3,40.5 L34.2,51 L31.6,53.6 L29,51 Z" fill="#d5404f"/>
</g>
<g transform="translate(566,132)" stroke="#1d2733" stroke-width="1.5">
 <rect x="22.2" y="6.4" width="5.8" height="4.6" rx="2.2" fill="#5f6b7b"/>
 <rect x="30.3" y="6.4" width="5.8" height="4.6" rx="2.2" fill="#5f6b7b"/>
 <rect x="38.9" y="6.4" width="5.8" height="4.6" rx="2.2" fill="#5f6b7b"/>
 <path d="M12.8,18.4 Q8.2,19 8.2,24 Q8.2,29.4 12.8,29.9 Z" fill="#4f5b6d"/>
 <path d="M54.4,18.4 Q59.2,19 59.2,24 Q59.2,29.4 54.4,29.9 Z" fill="#4f5b6d"/>
 <path d="M17.7,56.6 L17.7,53 Q17.7,46.8 25,46.8 L42.4,46.8 Q49.7,46.8 49.7,53 L49.7,56.6 Z" fill="#a6d6ee"/>
 <circle cx="33.3" cy="47.3" r="3.4" fill="#6b7789"/>
 <rect x="12.9" y="9.2" width="41.5" height="35.7" rx="6.5" fill="#a8d7ef"/>
 <rect x="17.3" y="12.6" width="33.4" height="25.2" rx="3.8" fill="#e9f2fa"/>
 <circle cx="24.8" cy="19.4" r="3" fill="#c3d8e7"/>
 <circle cx="42.2" cy="19.4" r="3" fill="#c3d8e7"/>
 <path d="M29.9,24.4 Q33.8,30.5 37.8,24.4" fill="none"/>
 <path d="M19.8,25.6 H23.6 M19.8,28 H23.6 M43.6,25.6 H47.4 M43.6,28 H47.4" fill="none" stroke-width="1"/>
</g>
<text x="587.5" y="186.7" font-size="6" font-weight="bold" fill="#1d2733">AI</text>
<g transform="translate(566,196)" stroke="#2a211c" stroke-width="1.5">
 <path d="M8.8,13 Q8.8,20 12.6,20.5 Q16.4,20 16.4,13" fill="none" stroke-width="1.4"/>
 <path d="M50.6,13 Q50.6,20 54.4,20.5 Q58.2,20 58.2,13" fill="none" stroke-width="1.4"/>
 <path d="M12.6,22 L20.4,30.6 M54.4,22 L46.9,30.6" stroke-width="3.2" stroke="#2a211c"/>
 <path d="M12.6,22 L20.4,30.6 M54.4,22 L46.9,30.6" stroke-width="1.4" stroke="#b9b0aa"/>
 <circle cx="12.6" cy="22.1" r="3.1" fill="#f2b673"/>
 <circle cx="54.4" cy="22.1" r="3.1" fill="#f2b673"/>
 <circle cx="20.4" cy="30.6" r="2.6" fill="#f2b673"/>
 <circle cx="46.9" cy="30.6" r="2.6" fill="#f2b673"/>
 <line x1="33.3" y1="10.8" x2="33.3" y2="14" />
 <circle cx="33.3" cy="8.5" r="2.4" fill="#e7d6d6"/>
 <path d="M23.1,24.5 Q23.1,13.6 33.6,13.6 Q44.2,13.6 44.2,24.5 Z" fill="#ebe7e7"/>
 <circle cx="29.9" cy="20.4" r="1.7" fill="#eee" stroke-width="1.3"/>
 <circle cx="37.1" cy="20.4" r="1.7" fill="#eee" stroke-width="1.3"/>
 <rect x="25" y="42.2" width="5.4" height="4.8" fill="#f2b673"/>
 <rect x="36.6" y="42.2" width="5.4" height="4.8" fill="#f2b673"/>
 <rect x="25.6" y="47" width="4.2" height="4" fill="#a0a89a"/>
 <rect x="37.2" y="47" width="4.2" height="4" fill="#a0a89a"/>
 <rect x="21.2" y="51" width="10" height="5.5" rx="2" fill="#f2b673"/>
 <rect x="35.6" y="51" width="10.6" height="5.5" rx="2" fill="#f2b673"/>
 <rect x="23.1" y="24.5" width="20.8" height="17.7" rx="1" fill="#e5d5d1"/>
 <rect x="27.6" y="32.3" width="12.2" height="6.1" rx="1" fill="#6cb2ea"/>
 <path d="M28,28.2 H30.5 M36.5,28.2 H39" stroke-width="1"/>
</g>
<circle cx="785.4" cy="145.8" r="9.9" fill="#edeae7" stroke="#333" stroke-width="2.2"/><line x1="785.4" y1="145.8" x2="786.82" y2="139.13" stroke="#5a5a5a" stroke-width="0.9" stroke-linecap="round"/><line x1="785.4" y1="145.8" x2="783.08" y2="150.78" stroke="#5a5a5a" stroke-width="0.9" stroke-linecap="round"/>
<circle cx="881.4" cy="86.7" r="8.65" fill="#edeae7" stroke="#333" stroke-width="1.9"/><line x1="881.4" y1="86.7" x2="881.40" y2="80.75" stroke="#5a5a5a" stroke-width="0.9" stroke-linecap="round"/><line x1="881.4" y1="86.7" x2="884.49" y2="90.38" stroke="#5a5a5a" stroke-width="0.9" stroke-linecap="round"/>
<circle cx="958.4" cy="85.6" r="8.65" fill="#edeae7" stroke="#333" stroke-width="1.9"/><line x1="958.4" y1="85.6" x2="958.40" y2="79.65" stroke="#5a5a5a" stroke-width="0.9" stroke-linecap="round"/><line x1="958.4" y1="85.6" x2="960.80" y2="89.76" stroke="#5a5a5a" stroke-width="0.9" stroke-linecap="round"/>
<circle cx="881.6" cy="138.5" r="8.65" fill="#edeae7" stroke="#333" stroke-width="1.9"/><line x1="881.6" y1="138.5" x2="881.60" y2="132.55" stroke="#5a5a5a" stroke-width="0.9" stroke-linecap="round"/><line x1="881.6" y1="138.5" x2="886.40" y2="138.50" stroke="#5a5a5a" stroke-width="0.9" stroke-linecap="round"/>
<circle cx="951.2" cy="138.8" r="8.65" fill="#edeae7" stroke="#333" stroke-width="1.9"/><line x1="951.2" y1="138.8" x2="951.20" y2="132.85" stroke="#5a5a5a" stroke-width="0.9" stroke-linecap="round"/><line x1="951.2" y1="138.8" x2="955.36" y2="136.40" stroke="#5a5a5a" stroke-width="0.9" stroke-linecap="round"/>
<circle cx="881.5" cy="195.3" r="8.65" fill="#edeae7" stroke="#333" stroke-width="1.9"/><line x1="881.5" y1="195.3" x2="881.50" y2="189.35" stroke="#5a5a5a" stroke-width="0.9" stroke-linecap="round"/><line x1="881.5" y1="195.3" x2="876.70" y2="195.30" stroke="#5a5a5a" stroke-width="0.9" stroke-linecap="round"/>
<circle cx="952" cy="194.6" r="8.65" fill="#edeae7" stroke="#333" stroke-width="1.9"/><line x1="952" y1="194.6" x2="952.00" y2="188.65" stroke="#5a5a5a" stroke-width="0.9" stroke-linecap="round"/><line x1="952" y1="194.6" x2="955.93" y2="197.35" stroke="#5a5a5a" stroke-width="0.9" stroke-linecap="round"/>
<g transform="translate(705,118)">
 <path d="M43.7,28.5 L53.5,29.2 Q60.5,30 61.6,36.5 L66.8,57.5 L75.5,72.5 L81.5,79 L80,84.5 L73.5,81 L64.5,64.5 L58.6,47 L57.8,89.4 L29.6,89.4 L28.8,47 L23,64.5 L14,81 L7.5,84.5 L6,79 L12,72.5 L20.6,57.5 L25.8,36.5 Q27,30 34,29.2 Z" fill="#f5e3e3" stroke="#eed6d6" stroke-width="1"/>
 <rect x="39.8" y="20" width="7.8" height="10" fill="#f3dfde"/>
 <ellipse cx="43.7" cy="14.9" rx="7.4" ry="9.4" fill="#f1dbda"/>
 <g opacity="0.78">
 <path d="M43,33 Q36,33 34.5,40 Q33.6,46 35,49 L42.5,48 Z" fill="#c99aa2"/>
 <path d="M44.6,33 Q51.5,33 53,40 Q53.8,46 52.4,49 L45,48 Z" fill="#c4919a"/>
 <path d="M43.7,26 L43.7,40" stroke="#6d6b73" stroke-width="1.8"/>
 <ellipse cx="43.8" cy="43.5" rx="1.6" ry="2.6" fill="#f4e6e6"/>
 <path d="M34.2,50 Q34,47.6 38,47.8 L50.5,48.2 Q53.5,49 53,53 Q52.4,57.5 47,56.6 Q40,55.5 36,58 Q34.2,56 34.2,50 Z" fill="#a86a62"/>
 <path d="M48.5,50 Q53,49 53.5,53 Q53,56.5 49.5,56 Z" fill="#c5747a"/>
 <path d="M36,58 Q36.5,75.5 38.5,76.5 L49.5,76.5 Q52,75.5 52,58 Q44,56.5 36,58 Z" fill="none" stroke="#c27d80" stroke-width="2.6"/>
 <path d="M38.5,61 Q44,59 50,61 L49,71 Q44,73 39.5,71 Z" fill="#ebc3c3"/>
 <circle cx="43.8" cy="77" r="1.8" fill="#a83c42"/>
 </g>
</g>
<g transform="translate(830,62)">
 <rect x="9.4" y="19.6" width="5" height="2.4" rx="1" fill="#7e1b2a"/>
 <rect x="9.4" y="23.4" width="5" height="2.4" rx="1" fill="#7e1b2a"/>
 <rect x="13.9" y="8.7" width="4.2" height="19" fill="#3f8cc4"/>
 <path d="M19,23 L19,12.5 Q19,9 22.5,9 L26.5,9 Q29,9 29,12 L29,23 Z" fill="#cf3b42"/>
 <rect x="19.3" y="6.8" width="2.4" height="4" fill="#c23040"/>
 <rect x="22.8" y="6.2" width="2.4" height="4" fill="#d04048"/>
 <rect x="26.2" y="6.8" width="2.4" height="4" fill="#c23040"/>
 <path d="M11,27 Q9.5,36 12,43 Q17,50.5 28,51.2 Q36.5,50.2 38.4,40 Q39.6,31 35,26 Q29,22.5 21,23.5 Q13,24 11,27 Z" fill="#cd3f3f"/>
 <path d="M12.6,28.5 Q11.4,37 14.6,43.5 L18.4,42.4 Q17.8,34 16.8,27.6 Z" fill="#951f2a"/>
 <path d="M20.5,30 Q22,40 26.5,48.5 M24.5,29.5 Q27,39 31.5,47 M29,30 Q32.5,37 35.8,43" stroke="#ea8b86" stroke-width="1.3" fill="none"/>
 <path d="M19.5,27.5 Q25,25.5 33,27.5" stroke="#8e1f2a" stroke-width="2" fill="none"/>
 <path d="M28.6,32 L30.3,34.6 L32,32 L31.3,35.6 L29.3,35.6 Z" fill="#fbeaea"/>
 <path d="M22,26 L30,21.5 L36.8,17.2" stroke="#3d8dc6" stroke-width="4.4" fill="none" stroke-linecap="round"/>
 <path d="M31,20.6 L35,23.5" stroke="#3d8dc6" stroke-width="2.6" stroke-linecap="round"/>
 <rect x="13.4" y="43" width="4.2" height="7.6" fill="#3f8cc4"/>
</g>
<g transform="translate(830,62)">
 <path d="M67.5,16.5 Q73,12.5 84,12.6 Q95,12.6 102,13.4 Q112,13 117.5,14.5 Q119,17 115,20.5 Q107,27 98,31 Q92,34 88,38 Q80,43 70,47.5 Q67,47.8 66.6,44 Q65.4,30 67.5,16.5 Z" fill="#a9665b" stroke="#c98b7e" stroke-width="0.9"/>
 <path d="M95.3,13.5 Q94.6,25 95.5,37" fill="none" stroke="#c8897c" stroke-width="0.8"/>
</g>
<g transform="translate(825,118)">
 <path d="M20.5,15.6 Q24,17 24,24 L24,44 Q23.6,50 19,50 Q10,52 5.6,52.7 Q4.6,46 6.6,36 Q10,21 20.5,15.6 Z" fill="#d5949a"/>
 <path d="M32.6,15.6 Q29.3,17 29.3,24 L29.3,44 Q29.8,50 34.5,50 Q43,52 47.8,52.7 Q48.8,46 46.8,36 Q43.4,21 32.6,15.6 Z" fill="#d18d94"/>
 <path d="M12,33 L18,38 M9.5,42 L17,43 M15,27 L19,33 M41,33 L35,38 M43.5,42 L36,43 M38,27 L34,33" stroke="#b8707e" stroke-width="0.7" fill="none"/>
 <path d="M23.1,3.3 L29.9,3.3 L28.4,6.5 L28.4,31.2 L25.2,31.2 L25.2,6.5 Z" fill="#4a70b8"/>
</g>
<g transform="translate(825,118)">
 <path d="M86.5,53.5 L98,40 L100,41.5 L89.5,54 Z" fill="#c92c3c"/>
 <path d="M99.5,53.5 L88,40 L86,41.5 L96.5,54 Z" fill="#d3404e"/>
 <rect x="88.4" y="9.8" width="3.9" height="36" fill="#4d78c0"/>
 <rect x="92.6" y="9.8" width="3.6" height="36" fill="#cc2f3e"/>
 <path d="M78,15 Q71,15.5 71.4,26 Q72,38 80,43 Q86,44.5 87.8,39 Q87,33 84.8,30 Q85.5,25 88,22 Q87,15 78,15 Z" fill="#a86a58" stroke="#8e5545" stroke-width="0.7"/>
 <path d="M108,15 Q115.4,15.5 115,26 Q114.4,38 106.4,43 Q100.4,44.5 98.6,39 Q99.4,33 101.6,30 Q101,25 98.4,22 Q99.4,15 108,15 Z" fill="#a86a58" stroke="#8e5545" stroke-width="0.7"/>
 <path d="M84,28 Q86,34 88.5,46 M102.5,28 Q100.5,34 97.5,46" stroke="#e0b45c" stroke-width="1.6" fill="none"/>
 <path d="M86,24 L90,24 M100.4,24 L96,24" stroke="#5a6fb8" stroke-width="1.4"/>
</g>
<g transform="translate(820,172)">
 <path d="M33,17 L39,17.5 Q44,18.5 45,23 L49,40 L56,52 L59,58 L56.5,61 L53,57.5 L46,46 L43.5,38 L43.5,58 L42,80 L35,80 L33,62 L31,80 L24,80 L22.5,58 L22.5,38 L20,46 L13,57.5 L9.5,61 L7,58 L10,52 L17,40 L21,23 Q22,18.5 27,17.5 Z" fill="#dfe2ea"/>
 <circle cx="33" cy="10.5" r="5.2" fill="#efd5cd"/>
 <path d="M31.5,12 L31.5,38" stroke="#8db8e4" stroke-width="1.6"/>
 <path d="M34,14 Q36,24 34.5,34 Q37,38 35.5,42" stroke="#e2a878" stroke-width="1.1" fill="none"/>
 <path d="M27,38 Q26,50 29,56 Q35,58.5 41,55 Q42,46 39,38 Q33,36 27,38 Z" fill="#ddb0a4"/>
 <path d="M29,41 Q34,39 38.5,42 M28.5,46 Q34,44 39.5,47 M29.5,51 Q34,49 39,52" stroke="#c98f86" stroke-width="0.8" fill="none"/>
 <path d="M39,48 Q40,62 38.8,76" stroke="#d99696" stroke-width="1.4" fill="none"/>
</g>
<g transform="translate(820,172)">
 <circle cx="100.5" cy="10.6" r="4.3" fill="#b9564c"/>
 <path d="M97.9,14 L103.1,14 L103.3,18 L109.2,19.2 Q111.6,20.2 111.9,24 L112.6,35.5 L114,46 L111.8,46.8 L109.6,37 L108,30 L106.8,42 L107.6,51 L106.8,64 L106.2,80.2 L102.6,80.2 L101.6,61 L101,50 L100.5,46 L100,50 L99.4,61 L98.4,80.2 L94.8,80.2 L94.2,64 L93.4,51 L94.2,42 L93,30 L91.4,37 L89.2,46.8 L87,46 L88.4,35.5 L89.1,24 Q89.4,20.2 91.8,19.2 L97.7,18 Z" fill="#b9564c"/>
 <path d="M100.5,18 L100.5,42 M95,22 Q97,26 99.5,25 M106,22 Q104,26 101.5,25 M94.8,43 Q100.5,47 106.2,43 M96,57 L97,62 M105,57 L104,62 M91,27 L90,34 M110,27 L111,34" stroke="#e3a08f" stroke-width="0.7" fill="none"/>
 <ellipse cx="88.2" cy="47.6" rx="1.5" ry="2.1" fill="#efd3c3"/>
 <ellipse cx="112.8" cy="47.6" rx="1.5" ry="2.1" fill="#efd3c3"/>
 <ellipse cx="96.5" cy="81" rx="2" ry="1.3" fill="#efd3c3"/>
 <ellipse cx="104.5" cy="81" rx="2" ry="1.3" fill="#efd3c3"/>
</g>
<g transform="translate(272,392)">
 <clipPath id="boneclip"><path d="M14.6,17.9 Q18,18 20.1,19.1 Q23.5,20.8 26.2,20.4 Q28,15 31.7,9.3 Q35,6.5 38.5,7.5 Q45,9 46.4,16.1 Q45.8,21 40.3,22.8 Q35,25.5 32.3,29.6 Q31.4,34 31.7,38.7 L31.1,55.3 Q26,56.6 21.3,55.9 Q19.5,48 17,41.8 Q13,35 12.1,27.7 Q12,20 14.6,17.9 Z"/></clipPath>
 <path d="M14.6,17.9 Q18,18 20.1,19.1 Q23.5,20.8 26.2,20.4 Q28,15 31.7,9.3 Q35,6.5 38.5,7.5 Q45,9 46.4,16.1 Q45.8,21 40.3,22.8 Q35,25.5 32.3,29.6 Q31.4,34 31.7,38.7 L31.1,55.3 Q26,56.6 21.3,55.9 Q19.5,48 17,41.8 Q13,35 12.1,27.7 Q12,20 14.6,17.9 Z" fill="#977150" stroke="#e7d9bb" stroke-width="1.8"/>
 <g clip-path="url(#boneclip)"><circle cx="28.1" cy="34.6" r="1.2" fill="#c9aa84"/><circle cx="28.5" cy="32.3" r="1.0" fill="#c9aa84"/><circle cx="20.4" cy="32.5" r="1.0" fill="#c9aa84"/><circle cx="38.0" cy="14.1" r="0.8" fill="#c9aa84"/><circle cx="17.6" cy="45.6" r="1.0" fill="#c9aa84"/><circle cx="16.2" cy="53.2" r="1.2" fill="#c9aa84"/><circle cx="34.0" cy="37.1" r="0.7" fill="#c9aa84"/><circle cx="15.4" cy="33.2" r="0.6" fill="#c9aa84"/><circle cx="20.5" cy="20.6" r="0.6" fill="#c9aa84"/><circle cx="28.5" cy="29.4" r="1.1" fill="#c9aa84"/><circle cx="30.1" cy="38.2" r="0.9" fill="#c9aa84"/><circle cx="34.2" cy="30.1" r="0.8" fill="#c9aa84"/><circle cx="43.9" cy="53.8" r="1.1" fill="#c9aa84"/><circle cx="35.5" cy="23.9" r="0.7" fill="#c9aa84"/><circle cx="23.4" cy="13.1" r="1.1" fill="#c9aa84"/><circle cx="26.6" cy="47.2" r="0.8" fill="#c9aa84"/><circle cx="42.8" cy="47.3" r="0.6" fill="#c9aa84"/><circle cx="21.1" cy="50.1" r="0.9" fill="#c9aa84"/><circle cx="43.4" cy="27.5" r="0.6" fill="#c9aa84"/><circle cx="33.3" cy="44.3" r="0.8" fill="#c9aa84"/><circle cx="17.5" cy="24.6" r="1.2" fill="#c9aa84"/><circle cx="37.0" cy="15.2" r="0.7" fill="#c9aa84"/><circle cx="17.9" cy="12.6" r="1.1" fill="#c9aa84"/><circle cx="20.2" cy="34.6" r="0.9" fill="#c9aa84"/><circle cx="20.5" cy="42.2" r="0.7" fill="#c9aa84"/><circle cx="33.7" cy="15.1" r="0.9" fill="#c9aa84"/><circle cx="21.2" cy="21.9" r="1.2" fill="#c9aa84"/><circle cx="38.3" cy="23.4" r="1.1" fill="#c9aa84"/><circle cx="21.1" cy="27.3" r="1.1" fill="#c9aa84"/><circle cx="33.6" cy="14.4" r="1.2" fill="#c9aa84"/><circle cx="21.2" cy="21.4" r="1.1" fill="#c9aa84"/><circle cx="24.5" cy="23.0" r="0.6" fill="#c9aa84"/><circle cx="17.6" cy="35.6" r="0.7" fill="#c9aa84"/><circle cx="32.4" cy="26.4" r="0.9" fill="#c9aa84"/><circle cx="42.8" cy="31.3" r="0.9" fill="#c9aa84"/><circle cx="40.1" cy="18.0" r="0.7" fill="#c9aa84"/><circle cx="41.3" cy="46.0" r="0.7" fill="#c9aa84"/><circle cx="20.5" cy="42.5" r="1.2" fill="#c9aa84"/><circle cx="20.7" cy="51.8" r="1.1" fill="#c9aa84"/><circle cx="32.5" cy="28.5" r="0.7" fill="#c9aa84"/>
 <path d="M30,12 Q36,14 44,13 M15,25 Q21,30 27,26 M20,35 Q26,40 30,36 M21.5,45 L28,49 M24,50 Q26,43 29,40 M35,18 Q33,24 36,27" stroke="#b8996f" stroke-width="1.1" fill="none"/>
 </g>
</g>
<g transform="translate(272,392)">
 <path d="M59.8,27.6 L88,27.4 Q104,26.2 114.8,22.4 L116.6,25.5 L112.5,29.5 L119.8,37.8 L115.5,42 L104,40.2 Q90,43.2 59.8,43.2 Z" fill="#a51f22"/>
 <path d="M67,39.8 Q80,37 88,35.5 Q98,35 106,37 Q100,39.6 90,40.3 Q78,41 67,39.8 Z" fill="#f0ae50"/>
 <path d="M87,30.8 Q96,29.5 104,28.4 Q110,27 113.5,25.6 L111,29.5 Q105,31.5 100,33.4 Q94,33 87,30.8 Z" fill="#f0ae50"/>
 <path d="M104,34 L113,33 L117.5,37.8 L108,37 Z" fill="#f0ae50"/>
 <path d="M62,34.5 Q76,33.4 86,32.5 Q95,33 103,35.2 Q95,36.4 86,36 Q74,36.3 62,36.5 Z" fill="#84171b"/>
</g>
<g transform="translate(400,392)" fill="none" stroke-linecap="butt">
 <path d="M11,9 Q10.6,20 15.8,27 Q20.8,34 20,55" stroke="#2b6fa8" stroke-width="4.2"/>
 <path d="M21,9 Q21.4,20 16.2,27 Q11.2,34 11.6,55" stroke="#2f77b0" stroke-width="4.2"/>
 <path d="M9,8.6 h4.2 M18.9,8.6 h4.2 M9.5,55.2 h4.2 M17.9,55.2 h4.2" stroke="#e4b04e" stroke-width="2.6"/>
</g>
<g transform="translate(400,392)">
 <path d="M66,7 C53,7 47.5,16 48,27 C48.4,36 53,41 58,46 C62,51 65,56.5 72,56.6 C79.5,56.6 83,51 82.5,44 C82,38 83.5,33 83.5,25 C83.5,14 76.5,7 66,7 Z" fill="#111"/>
 <path d="M55.2,25 C55.5,16 62,12.6 67.5,12.6 C73.5,12.6 77.5,17 77.5,24 C77.5,28 76,30.5 74.5,32" stroke="#f4f5fb" stroke-width="3.2" fill="none" stroke-linecap="round"/>
 <path d="M71.5,30 C68.5,28 64.5,30 63.8,34.5 C63.2,39 65.5,40 65.4,43 C65.2,45.5 68,47.5 71,46" stroke="#f4f5fb" stroke-width="2.8" fill="none" stroke-linecap="round"/>
 <path d="M87.5,25 L92.5,23.4 M88,31.6 L93.5,31.6 M87.5,38 L92.5,39.8" stroke="#111" stroke-width="2.3" stroke-linecap="round"/>
</g>
<g transform="translate(272,452)"><path d="M8,30 Q9,24 14,23 Q28,21 44,22.5 Q50,24 49.8,29 Q49.5,38 40,43 Q30,46.5 20,44.5 Q9,40.5 8,30 Z" fill="#f2d9c0"/><path d="M10,36 Q20,40 30,40 Q40,40 48,35" stroke="#e9c9a6" stroke-width="3" fill="none" opacity="0.6"/><path d="M8.5,27 Q8.0,19.5 10.5,18.6 Q12.3,18.2 12.4,20.5 Q12.8,18 14.5,18.6 Q17.0,19.5 16.3,27 Z" fill="#f9f5ec" stroke="#e6cd9c" stroke-width="0.7"/><path d="M16.2,27 Q15.7,19.5 18.2,18.6 Q20.0,18.2 20.1,20.5 Q20.5,18 22.2,18.6 Q24.7,19.5 24.0,27 Z" fill="#f9f5ec" stroke="#e6cd9c" stroke-width="0.7"/><path d="M23.9,27 Q23.4,19.5 25.9,18.6 Q27.7,18.2 27.8,20.5 Q28.2,18 29.9,18.6 Q32.4,19.5 31.7,27 Z" fill="#f9f5ec" stroke="#e6cd9c" stroke-width="0.7"/><path d="M31.6,27 Q31.1,19.5 33.6,18.6 Q35.4,18.2 35.5,20.5 Q35.9,18 37.6,18.6 Q40.1,19.5 39.4,27 Z" fill="#f9f5ec" stroke="#e6cd9c" stroke-width="0.7"/><path d="M39.3,27 Q38.8,19.5 41.3,18.6 Q43.1,18.2 43.2,20.5 Q43.6,18 45.3,18.6 Q47.8,19.5 47.1,27 Z" fill="#f9f5ec" stroke="#e6cd9c" stroke-width="0.7"/><path d="M8.8,26 Q9.3,35.5 12.4,35 Q15.5,35.5 16.2,26 Q17.0,35.5 20.1,35 Q23.2,35.5 23.9,26 Q24.7,35.5 27.8,35 Q30.9,35.5 31.6,26 Q32.4,35.5 35.5,35 Q38.6,35.5 39.3,26 Q40.1,35.5 43.2,35 Q46.3,35.5 47.0,26 " stroke="#d24545" stroke-width="1.7" fill="none"/></g>
<g transform="translate(272,452)">
 <path d="M75.5,30 L76,59 M85.5,28.5 L86.8,59.5 M75.8,41 L86,40.5 M74.5,29.5 L86,28" stroke="#c9c9cb" stroke-width="1.3" fill="none"/>
 <circle cx="81.4" cy="9.6" r="3.6" fill="#555"/>
 <path d="M78.5,13 Q72,12.5 68,17 Q64.5,22 64,32 L63.5,43 L64.5,57 L63.5,59 L70,59 L69.4,45 L70.2,41 L71,57.5 L73.8,59 L75,42 L74.6,30 Q78,29.5 83.5,29 L84.5,27.6 L77.5,26 Q79,20 80.8,15.5 Z" fill="#4e4e4e"/>
</g>
<g transform="translate(370,452)">
 <circle cx="10.8" cy="23.3" r="5.1" fill="#111"/>
 <path d="M19.2,30 L28.3,14.5 M24.4,31.6 L34.6,19.4" stroke="#111" stroke-width="4.4" stroke-linecap="round"/>
 <path d="M20,31.5 Q23,40.5 30.4,42 Q36,41 42.5,34.2" stroke="#111" stroke-width="7.6" stroke-linecap="round" stroke-linejoin="round" fill="none"/>
 <path d="M38,31.5 Q42,26.5 47,25.2 L55.3,23.2 M38.5,31.6 L62.3,31.1" stroke="#111" stroke-width="5.2" stroke-linecap="round" fill="none"/>
 <path d="M19.6,29.8 Q27,33 32.6,30.8 M33,36.5 Q39,30.5 44,29" stroke="#f4f5fb" stroke-width="0.8" fill="none"/>
 <path d="M28,47 L30,50.5 L31.5,47.5 L33.5,51.5 L35,47.8 L37,50.5 L38.5,46.5 L40.5,48 L41.2,44.5" stroke="#222" stroke-width="1" fill="none"/>
</g>
<g transform="translate(370,452)">
 <path d="M82,52 L104,52 L104.5,58.5 L82.6,58.5 Z" fill="#1f1f1f"/>
 <path d="M80,19 Q93,16 104,17.5 Q108.5,20 110,26 Q111.5,36 109.5,44 L106,52.5 L82,52.5 Q79.5,42 80,32 Z" fill="#5d5d5d"/>
 <path d="M79.5,20 Q73.5,22 74,28 Q75,35 82,40.5 Q88,44 96,44.5 L100,41 Q92,40 86,35 Q81,30 82,24 Z" fill="#a7a7a7"/>
 <path d="M107.5,36 Q108,45 102,47 Q95,48.5 88,46 L90,43 Q96,44 100.5,42.5 Q104,40 104.5,34 Z" fill="#9a9a9a"/>
 <ellipse cx="111.8" cy="14.6" rx="5.3" ry="6" fill="#9d9d9d"/>
 <path d="M107.5,11 Q111,7 116,10" stroke="#7a7a7a" stroke-width="1.4" fill="none"/>
</g>
<g transform="translate(272,516)">
 <circle cx="15.6" cy="43.6" r="9.6" fill="none" stroke="#111" stroke-width="1.9"/>
 <path d="M15.6,34 V53.2 M6,43.6 H25.2 M8.8,36.8 L22.4,50.4 M22.4,36.8 L8.8,50.4" stroke="#111" stroke-width="0.9"/>
 <circle cx="15.6" cy="43.6" r="1.6" fill="#111"/>
 <circle cx="40.3" cy="49.4" r="4.2" fill="none" stroke="#111" stroke-width="1.7"/>
 <path d="M37.6,49.4 H43 M40.3,46.7 V52.1" stroke="#111" stroke-width="0.8"/>
 <path d="M10.4,13.4 L19.5,13.4 L19.5,31.5 L36,31.5 L36,35 L17.2,35 L17.2,16.4 L10.4,16.4 Z" fill="#111"/>
 <path d="M18.4,34 L36.5,44.5 L43,44.5" stroke="#111" stroke-width="1.4" fill="none"/>
 <circle cx="26" cy="8.6" r="4.1" fill="#111"/>
 <path d="M22.2,14.2 Q22,13 25,13 L27.6,13 Q30,13 30.5,16 L31.3,24.8 L39.2,25.6 Q41.6,26.5 42.2,29.5 L45.5,42 L47.8,42.3 L47.6,45 L42.5,45 L38.7,31.5 L23.6,31 Q22,30 22,27.5 Z" fill="#111" stroke="#f4f5fb" stroke-width="0.8"/>
</g>
<g transform="translate(272,516)">
 <circle cx="100.8" cy="18.6" r="5.6" fill="#111"/>
 <path d="M65.5,31 Q65,15 82,12.2 Q92,11.5 93.5,17.5 L83.5,37.5 Q81,39.5 78.6,37.5 L84.5,23 Q78,24 74.5,31 Z" fill="#111"/>
 <path d="M70,28 Q66.5,38 72.6,45 L75.6,55.5" stroke="#111" stroke-width="7.6" stroke-linecap="round" fill="none"/>
 <path d="M89.5,15.5 L80,36.5" stroke="#f4f5fb" stroke-width="0.9" fill="none"/>
</g>
<g transform="translate(385,516)">
 <circle cx="20.6" cy="12.4" r="5.3" fill="#111"/>
 <path d="M13.8,17.4 L27.6,17.4 Q30,17.8 30.8,21 L35,35.6 L32.2,37 L28.6,27 L28.4,39 L27.6,58.8 L22.4,58.8 L21.3,42 L19.9,58.8 L14.8,58.8 L13.6,39 L13.4,27 L10.2,36 L7.4,35.2 L11,21 Q11.8,17.8 13.8,17.4 Z" fill="#111"/>
 <path d="M33.3,36.6 Q34.6,36 34.8,38 L30.3,59.5" stroke="#111" stroke-width="1.4" fill="none"/>
</g>
<g transform="translate(385,516)">
 <path d="M56,25 Q55,14 66,11 Q78,8 90,12.5 Q100.5,18 101,30 Q101.5,40 94,43.5 Q92,50 87,52 Q82.5,53.5 80.6,57 L78.5,57 Q78,51 75,48 Q69,46 65.2,42.5 Q57,38 56,25 Z" fill="#cfcfd2"/>
 <path d="M72,46 Q78,50 86,47 Q93,44 94,38" stroke="#b0b0b3" stroke-width="1" fill="none"/>
 <ellipse cx="74.5" cy="30.5" rx="8.5" ry="6" fill="#8f8f93"/>
 <path d="M67,38 Q74,40 80.6,35" stroke="#8a8a8e" stroke-width="1.8" fill="none"/>
 <path d="M62,20 Q68,16 73,19 M78,15 Q85,15 88,20 M89,26 Q95,29 94,35 M60,30 Q62,34 66,35" stroke="#b5b5b9" stroke-width="1" fill="none"/>
</g>
<g transform="translate(520,390)" fill="#111">
 <path d="M9.6,29.5 L9.6,24 Q10,16.5 17.5,15.9 Q22.5,15.6 24.6,18.7 Q33,18.6 40,21 Q44,22.8 51.5,22.6 Q54.5,22 55.6,20.2 Q57.5,18.6 60.5,18.8 Q63.6,19.6 63.7,23 L63.7,29.5 Z"/>
 <rect x="8" y="32.8" width="57.7" height="6.6"/>
 <rect x="10.9" y="38" width="3" height="18.5"/>
 <rect x="59.3" y="38" width="2.8" height="18.5"/>
 <rect x="13" y="47" width="47" height="2.6"/>
 <circle cx="12.6" cy="58.8" r="4.95"/>
 <circle cx="60.8" cy="58.8" r="4.95"/>
</g>
<g transform="translate(520,390)">
 <circle cx="104.4" cy="20.2" r="5.4" fill="#111"/>
 <path d="M89.6,28 Q89.4,35 91,41.5" stroke="#111" stroke-width="9.4" stroke-linecap="round" fill="none"/>
 <path d="M89.5,40.5 Q86.4,50 82,60.5" stroke="#111" stroke-width="6.4" stroke-linecap="round" fill="none"/>
 <path d="M94.2,40.5 Q98.4,50 98.8,61.6" stroke="#111" stroke-width="6.4" stroke-linecap="round" fill="none"/>
 <path d="M86.4,25.6 Q90.5,22.6 96.2,23.8 L102.6,35" stroke="#111" stroke-width="5.8" stroke-linecap="round" stroke-linejoin="round" fill="none"/>
 <path d="M87,29.2 Q92.5,26.6 97.5,27.8 L100.6,33" stroke="#f4f5fb" stroke-width="0.8" fill="none"/>
 <path d="M100,12.5 L101.5,8.2 L103.6,12 L105.6,7.3 L107.6,11.4 L110.2,7.6 L111,12 L114.2,10.4 L112.4,14.4 L115,16.5" stroke="#111" stroke-width="1" fill="none" stroke-linejoin="round"/>
 <path d="M110,25 L113,27 L110.5,29 L114,31 M112.2,31.6 L115.4,33.6 L112.8,35.6 L116,37 M114.5,28.4 L118.5,29" stroke="#111" stroke-width="1" fill="none"/>
</g>
<g transform="translate(520,390)">
 <path d="M156.4,8.7 Q176.5,9.5 177.4,26.5 Q177.8,36 175.4,45 L176.3,62.4 L148.3,62.4 L148.3,59.2 Q142,58.8 138.8,57 Q136.6,55 137,52.5 L135.6,51.5 L136.3,49.5 L135,48 Q134.8,46 136,45 Q134,44.5 132.3,43.5 Q131.5,42.5 132.6,41 L135.8,35 Q135.4,30 136.2,25 Q139.2,9.4 156.4,8.7 Z" fill="#111"/>
 <path d="M148.5,31.2 Q143,31.5 142,27 Q139,22 143,19 Q143,14.5 148,14.6 Q151,11.6 155,13.6 Q158.5,11.2 162,13.6 Q167,12.6 168.6,17 Q172.2,19 170.6,23.5 Q172.6,27.2 169,30.2 Q167.5,33.5 163.2,32.2" stroke="#f4f5fb" stroke-width="1.5" fill="none" stroke-linejoin="round"/>
 <path d="M146,21.5 Q148,19.5 150,21 M158,18 Q160,16.5 162.5,18" stroke="#f4f5fb" stroke-width="1.2" fill="none"/>
 <path d="M162.2,38.6 L167.2,43.2 Q170.2,44.2 169.6,40.6 L166.8,35.5" stroke="#f4f5fb" stroke-width="1.4" fill="none" stroke-linejoin="round"/>
 <circle cx="155.7" cy="33.7" r="7.5" fill="#111" stroke="#f4f5fb" stroke-width="1.5"/>
 <path d="M155.5,29.4 Q152.8,33.2 153.2,34.6 Q153.8,36.6 155.5,36.6 Q157.2,36.6 157.8,34.6 Q158.2,33.2 155.5,29.4 Z" fill="#111" stroke="#f4f5fb" stroke-width="1.3"/>
</g>
<g transform="translate(520,460)">
 <rect x="26.4" y="10.6" width="1.8" height="14" fill="#111"/>
 <rect x="30.2" y="14.2" width="1.8" height="10.4" fill="#111"/>
 <rect x="28" y="18.3" width="2.4" height="1.4" fill="#111"/>
 <path d="M21.4,18 Q14,20 10.5,30 Q7.5,40 8.2,48 Q9,51.2 16,50.4 L23.5,47.8 Q25,47 25,44 L25,31 L28.5,28.5 L28.6,24 Q26,18.5 21.4,18 Z" fill="#111"/>
 <path d="M37.6,18 Q45,20 48,28 L50.8,50.4 Q45,50.6 38,47.5 Q33.6,46 32.6,43 L32.3,31.5 L29.8,28.5 L29.8,24 Q32,18.5 37.6,18 Z" fill="#111"/>
 <rect x="25" y="24" width="7.4" height="6" fill="#111"/>
 <path d="M13.6,34.6 Q17,33.5 19.8,30.4 M13.6,39.6 Q17,38.5 20.2,35.6" stroke="#f4f5fb" stroke-width="1" fill="none" stroke-linecap="round"/>
 <circle cx="49" cy="33" r="12" fill="#f4f5fb"/>
 <circle cx="49" cy="33" r="10.7" fill="#111"/>
 <circle cx="49" cy="33" r="8.9" fill="#f0f2f6"/>
 <path d="M47,26.6 l2.4,0.2 M43.8,30 l0.6,2 M47.2,30.6 l2.2,-0.6 M51.5,28.8 l0.8,2 M50.8,32.6 l2,-1 M45.5,35.5 l0.4,2.2 M48.2,34.2 l-0.6,2.2 M53,34.8 l1.8,0.6 M48.4,38.4 l2.2,0.2" stroke="#111" stroke-width="1.2" stroke-linecap="round"/>
</g>
<g transform="translate(520,460)">
 <path d="M83,17 Q87,15.6 90,15.2 L99.5,16.2 Q101.5,14.4 106,14 L110,12.6 Q114,11 119,12 Q121.6,13 120.2,16.6 Q116,25 111.6,30.4 Q109,32.4 106,32.6 L102.5,34.6 Q100,35 99.6,36 Q99,38 97.6,40.5 Q95,45.5 88.5,49 Q82.5,52.2 78.6,50.6 Q74.6,45.5 73.5,36 Q72.6,28 75,22.5 Q77.5,17.5 83,17 Z" fill="#111"/>
 <path d="M89.4,15.4 Q96.8,21 99.8,29.8 M100,16.4 Q98.4,23 99.8,29.8 Q101.5,32.5 104.6,33.3" stroke="#f4f5fb" stroke-width="0.9" fill="none"/>
 <circle cx="94.9" cy="44.1" r="2.3" fill="#111" stroke="#f4f5fb" stroke-width="0.9"/>
 <circle cx="109.4" cy="12.8" r="1.9" fill="#111" stroke="#f4f5fb" stroke-width="0.9"/>
 <circle cx="76.4" cy="21.7" r="1.8" fill="#111" stroke="#f4f5fb" stroke-width="0.9"/>
</g>
<g transform="translate(520,460)">
 <path d="M144,21 Q137,21.5 137,32 Q137,44.5 144.5,46.3 Q150,46.6 151,41 Q151.5,37 148.5,34.6 L147.6,31.8 L151.2,29 Q152,22.5 144,21 Z" fill="#111"/>
 <path d="M167.5,16.9 Q175,17.5 175,30 Q175,43.2 167.5,44.1 Q161.5,44.1 160,39 Q159.5,35.5 162.5,33 L163,30 L159.8,27.5 Q159.5,17.5 167.5,16.9 Z" fill="#111"/>
 <path d="M140.6,27 Q143.5,26.6 145.6,28.4 M140.4,39.6 Q143,37.4 146.4,36.4 M165.4,24.2 Q168,22.6 171.4,22.6 M165,36.6 Q168.4,38 171,40.4" stroke="#f4f5fb" stroke-width="0.8" fill="none"/>
 <rect x="152" y="7.7" width="2.9" height="45.6" rx="1" fill="#7c7c80" stroke="#444" stroke-width="0.4"/>
 <rect x="156.3" y="7.7" width="2.9" height="45.6" rx="1" fill="#7c7c80" stroke="#444" stroke-width="0.4"/>
 <path d="M148.5,31.8 L152,30.4 M159.2,30.4 L162.6,31 M152,33.6 Q155.5,31 159.2,33.6" stroke="#e8e8ec" stroke-width="1" fill="none"/>
 <path d="M142.7,10.9 L149,21 L136.3,21 Z" fill="#f6f6f8" stroke="#111" stroke-width="1.1" stroke-linejoin="round"/>
 <path d="M142.7,13.6 V17.6" stroke="#111" stroke-width="1.1"/>
 <circle cx="142.7" cy="19.2" r="0.6" fill="#111"/>
</g>
<g transform="translate(520,522)">
 <g transform="rotate(32 22 27)">
  <rect x="17.6" y="6" width="8.6" height="38" rx="2.6" fill="#111"/>
  <rect x="19.2" y="2.2" width="5.4" height="5" rx="1" fill="#111"/>
  <path d="M17.6,14.5 H26.2 M17.6,17 H26.2 M17.6,38.5 H26.2" stroke="#f4f5fb" stroke-width="0.9"/>
 </g>
 <g transform="rotate(32 43 17)">
  <rect x="38.6" y="7" width="8.6" height="18" rx="1.6" fill="#111"/>
  <path d="M44.6,9 V23" stroke="#f4f5fb" stroke-width="0.8"/>
 </g>
 <circle cx="44.7" cy="41.4" r="11.6" fill="#111"/>
 <g transform="rotate(-45 44.7 41.4)">
  <path d="M42.4,33 H47 V35 H42.4 Z M43.2,35 H46.2 V44 H43.2 Z M44.7,44 V50.5" stroke="#f4f5fb" stroke-width="1.1" fill="none"/>
 </g>
</g>
<g transform="translate(520,522)">
 <circle cx="97.6" cy="12.8" r="6" fill="#111"/>
 <path d="M88.5,17.5 Q84,18.5 84,25 L85,37 Q86,40.5 90,40.5 L103,36 Q105.5,35.6 106.3,38 L108.6,47.5 L113.4,46.5 L111.6,34 Q110.5,29.5 105.5,29.5 L96.5,30.5 L95.5,23 Q94.5,17.5 88.5,17.5 Z" fill="#111"/>
 <path d="M92,21 Q94,28 99.5,30.8 L104,30.2" stroke="#f4f5fb" stroke-width="0.8" fill="none"/>
 <path d="M81.5,40 L92.5,40 M83.5,40 L91.5,52.3 M91,40 L83,52.3 M81.5,52.3 H85 M89.5,52.3 H93" stroke="#111" stroke-width="2" fill="none"/>
 <path d="M103,18.5 L105.2,20 L103.6,21.6 L106.2,23.2 M106.2,16.8 L108.4,18.6 L106.8,20.2 L109.4,22 M109.2,20.2 L111.8,21.6 L110.2,23.2 L112.8,24.8" stroke="#111" stroke-width="0.9" fill="none"/>
</g>
<g transform="translate(675.8,551.5)"><g transform="rotate(0)"><path d="M0,-12 V-19.6 M0,-19.6 L-3.4,-22.8 M0,-19.6 L3.4,-22.8" stroke="#111" stroke-width="3.3" stroke-linecap="round" stroke-linejoin="round" fill="none"/></g><g transform="rotate(45)"><path d="M0,-12 V-19.6 M0,-19.6 L-3.4,-22.8 M0,-19.6 L3.4,-22.8" stroke="#111" stroke-width="3.3" stroke-linecap="round" stroke-linejoin="round" fill="none"/></g><g transform="rotate(90)"><path d="M0,-12 V-19.6 M0,-19.6 L-3.4,-22.8 M0,-19.6 L3.4,-22.8" stroke="#111" stroke-width="3.3" stroke-linecap="round" stroke-linejoin="round" fill="none"/></g><g transform="rotate(135)"><path d="M0,-12 V-19.6 M0,-19.6 L-3.4,-22.8 M0,-19.6 L3.4,-22.8" stroke="#111" stroke-width="3.3" stroke-linecap="round" stroke-linejoin="round" fill="none"/></g><g transform="rotate(180)"><path d="M0,-12 V-19.6 M0,-19.6 L-3.4,-22.8 M0,-19.6 L3.4,-22.8" stroke="#111" stroke-width="3.3" stroke-linecap="round" stroke-linejoin="round" fill="none"/></g><g transform="rotate(225)"><path d="M0,-12 V-19.6 M0,-19.6 L-3.4,-22.8 M0,-19.6 L3.4,-22.8" stroke="#111" stroke-width="3.3" stroke-linecap="round" stroke-linejoin="round" fill="none"/></g><g transform="rotate(270)"><path d="M0,-12 V-19.6 M0,-19.6 L-3.4,-22.8 M0,-19.6 L3.4,-22.8" stroke="#111" stroke-width="3.3" stroke-linecap="round" stroke-linejoin="round" fill="none"/></g><g transform="rotate(315)"><path d="M0,-12 V-19.6 M0,-19.6 L-3.4,-22.8 M0,-19.6 L3.4,-22.8" stroke="#111" stroke-width="3.3" stroke-linecap="round" stroke-linejoin="round" fill="none"/></g><circle r="14" fill="#111"/><circle r="3.1" fill="none" stroke="#f4f5fb" stroke-width="1.6"/><circle cx="0" cy="-7.5" r="1.2" fill="#f4f5fb"/><circle cx="0" cy="7.5" r="1.2" fill="#f4f5fb"/><circle cx="-7.5" cy="0" r="1.2" fill="#f4f5fb"/><circle cx="7.5" cy="0" r="1.2" fill="#f4f5fb"/></g>
<g transform="translate(138,662)" stroke="#2b1d1d" stroke-width="1.2" stroke-linejoin="round">
 <path d="M25.5,5.4 Q12,5.6 11.4,20 L11.4,36 Q13,39 17,38 L21,36 L30,36 L33.5,55 L39.3,55 L39.3,20 Q38.8,5.6 25.5,5.4 Z" fill="#ad7980"/>
 <path d="M6.3,55 L6.3,49 Q6.5,44 12,43 L20.5,42.2 L30.5,42.2 L33,43 L34.5,55 Z" fill="#f8f4ea"/>
 <path d="M38.8,46 Q43.7,47 43.7,50 L43.7,55 L38.8,55" fill="#f8f4ea"/>
 <path d="M20.9,34 L20.9,42.5 Q25.5,46 30.4,42.5 L30.4,34 Z" fill="#fbcf93"/>
 <ellipse cx="13.6" cy="24.3" rx="1.8" ry="2.2" fill="#fbcf93"/>
 <ellipse cx="36.4" cy="24.3" rx="1.8" ry="2.2" fill="#fbcf93"/>
 <path d="M14.8,19 Q14.8,17 17,16.5 L33,16.5 Q35.2,17 35.2,19 L35.2,26 Q35,35.5 25,35.5 Q15,35.5 14.8,26 Z" fill="#fcd59a"/>
 <path d="M14.4,21 Q14.2,11 25,10.2 Q35.6,10.4 36.3,20.5 Q34,17.6 26,17.2 Q18.5,17.2 14.4,21 Z" fill="#ad7980" stroke="none"/>
 <path d="M14.6,20.5 Q18.5,17.2 26,17.2 Q34,17.6 36.2,20" fill="none"/>
 <path d="M19.5,8.2 Q28,13 36.5,17.5" fill="none" stroke-width="0.8"/>
 <path d="M22.5,28.6 Q25.3,31.4 28.2,28.6" fill="none" stroke-width="1.1"/>
</g>
<circle cx="158.6" cy="685.6" r="0.9" fill="#2b1d1d"/><circle cx="167.8" cy="685.6" r="0.9" fill="#2b1d1d"/>
<g transform="translate(358,662)">
 <rect x="29.8" y="6.8" width="14" height="1.6" fill="#9fb3c3"/>
 <rect x="30.9" y="7.8" width="11.7" height="10.8" fill="#eef4f8"/>
 <path d="M35.4,10 h2.6 v1.3 h1.3 v2.6 h-1.3 v1.3 h-2.6 v-1.3 h-1.3 v-2.6 h1.3 Z" fill="#2d4a5e"/>
 <rect x="26.9" y="18.4" width="19" height="2.6" fill="#cfe6f1"/>
 <rect x="26.9" y="21" width="19" height="31.7" fill="#1f6c82"/>
 <rect x="41" y="21" width="2.4" height="31.7" fill="#a9d9e6"/>
 <rect x="7.3" y="36.7" width="21.5" height="12.3" fill="#2a8494"/>
 <rect x="7.3" y="49" width="21.5" height="3.6" fill="#e6eef3"/>
</g>
<rect x="387.2" y="684.60" width="11" height="1.0" fill="#92cbdc"/><rect x="402.2" y="684.60" width="1.4" height="1.0" fill="#92cbdc"/><rect x="387.2" y="687.35" width="11" height="1.0" fill="#92cbdc"/><rect x="402.2" y="687.35" width="1.4" height="1.0" fill="#92cbdc"/><rect x="387.2" y="690.10" width="11" height="1.0" fill="#92cbdc"/><rect x="402.2" y="690.10" width="1.4" height="1.0" fill="#92cbdc"/><rect x="387.2" y="692.85" width="11" height="1.0" fill="#92cbdc"/><rect x="402.2" y="692.85" width="1.4" height="1.0" fill="#92cbdc"/><rect x="387.2" y="695.60" width="11" height="1.0" fill="#92cbdc"/><rect x="402.2" y="695.60" width="1.4" height="1.0" fill="#92cbdc"/><rect x="387.2" y="698.35" width="11" height="1.0" fill="#92cbdc"/><rect x="402.2" y="698.35" width="1.4" height="1.0" fill="#92cbdc"/><rect x="387.2" y="701.10" width="11" height="1.0" fill="#92cbdc"/><rect x="402.2" y="701.10" width="1.4" height="1.0" fill="#92cbdc"/><rect x="387.2" y="703.85" width="11" height="1.0" fill="#92cbdc"/><rect x="402.2" y="703.85" width="1.4" height="1.0" fill="#92cbdc"/><rect x="387.2" y="706.60" width="11" height="1.0" fill="#92cbdc"/><rect x="402.2" y="706.60" width="1.4" height="1.0" fill="#92cbdc"/><rect x="387.2" y="709.35" width="11" height="1.0" fill="#92cbdc"/><rect x="402.2" y="709.35" width="1.4" height="1.0" fill="#92cbdc"/><rect x="387.2" y="712.10" width="11" height="1.0" fill="#92cbdc"/><rect x="402.2" y="712.10" width="1.4" height="1.0" fill="#92cbdc"/><rect x="365.3" y="701.8" width="21.5" height="0.9" fill="#9fd6e2"/><rect x="365.3" y="705.2" width="21.5" height="0.9" fill="#9fd6e2"/><rect x="365.3" y="708.6" width="21.5" height="0.9" fill="#9fd6e2"/><rect x="369.6" y="698.7" width="0.9" height="12.3" fill="#9fd6e2"/><rect x="373.9" y="698.7" width="0.9" height="12.3" fill="#9fd6e2"/><rect x="378.2" y="698.7" width="0.9" height="12.3" fill="#9fd6e2"/><rect x="382.5" y="698.7" width="0.9" height="12.3" fill="#9fd6e2"/>
<g transform="translate(140,770)">
 <path d="M9.6,19 L24.6,19 L24.6,56 L17.4,62 L9.6,56 Z" fill="#dfe9f3" stroke="#b9c8d6" stroke-width="0.8"/>
 <path d="M10.2,38 L24,38 L24,55.8 L17.4,61.2 L10.2,55.8 Z" fill="#c9dcec"/>
 <path d="M12,24 h5 M12,28 h5 M12,32 h5 M12,36 h5 M12,40 h5 M12,44 h5 M12,48 h5 M12,52 h5" stroke="#a8b8c8" stroke-width="0.6"/>
 <ellipse cx="17.2" cy="59.2" rx="2.6" ry="1.6" fill="#3e6a94"/>
 <rect x="8.4" y="8.4" width="17.4" height="11" rx="2" fill="#e07a30"/>
 <rect x="8.4" y="17.6" width="17.4" height="1.8" fill="#c4661f"/>
</g>
<path d="M161,824 L182.6,795.8 M164.6,833 L198.8,842.6" stroke="#3f4a52" stroke-width="1.5" stroke-dasharray="4,2.6" fill="none"/>
<circle cx="215" cy="810.8" r="35.4" fill="#f1f4f8" stroke="#3a3a3a" stroke-width="1.3"/>
<path d="M221.5,785.1 Q222.9,788.7 219.9,791.0 Q218.6,794.5 214.6,794.3 Q212.3,797.0 209.9,795.2 Q206.2,795.2 204.8,791.4 Q201.5,788.6 202.6,784.7 Q201.6,781.2 204.7,779.5 Q205.8,776.3 209.4,776.8 Q212.4,774.3 215.3,776.3 Q218.9,776.3 219.9,779.9 Q222.8,781.8 221.5,785.1 Z" fill="#8fc2c6"/>
<path d="M233.4,798.5 Q234.7,802.3 231.7,804.5 Q230.9,807.6 227.2,807.0 Q223.7,809.5 220.3,807.3 Q216.4,807.4 215.4,803.9 Q212.3,801.4 213.7,797.8 Q212.5,794.3 215.6,792.4 Q216.8,788.5 220.7,788.4 Q224.2,786.6 227.6,789.5 Q230.8,788.9 231.3,792.0 Q234.5,794.5 233.4,798.5 Z" fill="#4c9fa5"/>
<path d="M205.5,808.2 Q206.7,811.7 203.3,813.4 Q202.2,817.2 198.4,817.0 Q195.3,819.6 192.3,817.3 Q187.8,817.4 186.3,813.4 Q182.9,810.8 184.3,806.8 Q183.3,802.6 186.8,800.1 Q188.2,796.8 192.4,797.6 Q196.0,794.9 199.3,797.1 Q203.3,797.5 204.2,801.7 Q207.2,804.4 205.5,808.2 Z" fill="#4c9fa5"/>
<path d="M247.0,812.4 Q248.1,815.8 245.3,817.8 Q244.6,820.6 241.4,820.0 Q238.1,822.5 234.9,820.7 Q231.9,821.1 231.4,818.0 Q228.6,815.9 229.8,812.2 Q228.3,808.9 230.8,806.9 Q232.3,803.6 236.4,803.8 Q238.9,801.8 241.2,804.0 Q244.8,803.9 245.7,807.2 Q248.4,809.2 247.0,812.4 Z" fill="#8fc2c6"/>
<path d="M234.9,826.0 Q236.2,829.7 232.9,831.7 Q231.7,835.0 227.4,834.5 Q224.1,837.0 220.8,834.5 Q217.0,835.2 216.0,831.8 Q212.7,829.2 214.0,825.0 Q212.0,821.6 214.7,819.7 Q215.9,815.4 220.2,814.9 Q224.1,812.9 227.9,815.7 Q231.7,815.4 232.4,819.0 Q236.0,821.9 234.9,826.0 Z" fill="#4c9fa5"/>
<path d="M208.4,831.5 Q209.6,834.9 206.5,836.9 Q204.9,840.6 200.9,840.5 Q198.3,842.7 195.9,840.5 Q192.5,840.6 191.6,837.0 Q188.3,834.3 189.3,830.3 Q188.4,827.3 191.6,825.8 Q192.3,822.2 195.7,822.2 Q198.2,819.7 200.9,821.8 Q204.8,822.1 206.2,826.1 Q209.5,828.2 208.4,831.5 Z" fill="#8fc2c6"/>
<path d="M283,766.5 V849.6 H386" fill="none" stroke="#5a5a5e" stroke-width="1.5"/>
<circle cx="318.4" cy="829.8" r="0.8" fill="#bdbdc1"/><circle cx="316.4" cy="823.2" r="0.8" fill="#bdbdc1"/><circle cx="324.5" cy="823.4" r="0.8" fill="#bdbdc1"/><circle cx="321.8" cy="832.4" r="0.8" fill="#bdbdc1"/><circle cx="315.5" cy="835.2" r="0.8" fill="#bdbdc1"/><circle cx="311.0" cy="825.0" r="0.8" fill="#bdbdc1"/><circle cx="318.9" cy="836.0" r="0.8" fill="#bdbdc1"/><circle cx="324.7" cy="831.5" r="0.8" fill="#bdbdc1"/><circle cx="328.8" cy="842.6" r="0.8" fill="#bdbdc1"/><circle cx="333.9" cy="835.0" r="0.8" fill="#bdbdc1"/><circle cx="320.3" cy="838.4" r="0.8" fill="#bdbdc1"/><circle cx="328.0" cy="837.3" r="0.8" fill="#bdbdc1"/><circle cx="320.5" cy="839.1" r="0.8" fill="#bdbdc1"/><circle cx="337.4" cy="833.9" r="0.8" fill="#bdbdc1"/><circle cx="332.1" cy="833.2" r="0.8" fill="#bdbdc1"/><circle cx="311.7" cy="828.0" r="0.8" fill="#bdbdc1"/><circle cx="337.4" cy="827.9" r="0.8" fill="#bdbdc1"/><circle cx="328.1" cy="843.0" r="0.8" fill="#bdbdc1"/><circle cx="324.8" cy="845.5" r="0.8" fill="#bdbdc1"/><circle cx="330.3" cy="826.0" r="0.8" fill="#bdbdc1"/><circle cx="312.3" cy="833.7" r="0.8" fill="#bdbdc1"/><circle cx="335.1" cy="823.9" r="0.8" fill="#bdbdc1"/><circle cx="336.9" cy="830.4" r="0.8" fill="#bdbdc1"/><circle cx="311.8" cy="832.9" r="0.8" fill="#bdbdc1"/><circle cx="324.6" cy="833.4" r="0.8" fill="#bdbdc1"/><circle cx="329.3" cy="838.8" r="0.8" fill="#bdbdc1"/><circle cx="327.4" cy="831.3" r="0.8" fill="#bdbdc1"/><circle cx="316.7" cy="833.1" r="0.8" fill="#bdbdc1"/><circle cx="315.1" cy="833.8" r="0.8" fill="#bdbdc1"/><circle cx="316.4" cy="825.1" r="0.8" fill="#bdbdc1"/><circle cx="327.2" cy="844.0" r="0.8" fill="#bdbdc1"/><circle cx="339.9" cy="832.8" r="0.8" fill="#bdbdc1"/><circle cx="330.7" cy="841.7" r="0.8" fill="#bdbdc1"/><circle cx="328.0" cy="845.7" r="0.8" fill="#bdbdc1"/><circle cx="322.1" cy="825.6" r="0.8" fill="#bdbdc1"/><circle cx="320.9" cy="837.8" r="0.8" fill="#bdbdc1"/><circle cx="330.1" cy="836.1" r="0.8" fill="#bdbdc1"/><circle cx="340.6" cy="825.5" r="0.8" fill="#bdbdc1"/><circle cx="313.1" cy="829.6" r="0.8" fill="#bdbdc1"/><circle cx="319.5" cy="834.4" r="0.8" fill="#bdbdc1"/><circle cx="328.6" cy="842.9" r="0.8" fill="#bdbdc1"/><circle cx="337.1" cy="831.5" r="0.8" fill="#bdbdc1"/><circle cx="301.4" cy="823.5" r="0.8" fill="#bdbdc1"/><circle cx="320.4" cy="832.6" r="0.8" fill="#bdbdc1"/><circle cx="311.5" cy="823.3" r="0.8" fill="#bdbdc1"/><circle cx="334.6" cy="834.9" r="0.8" fill="#bdbdc1"/><circle cx="310.6" cy="823.7" r="0.8" fill="#bdbdc1"/><circle cx="348.2" cy="825.6" r="0.8" fill="#bdbdc1"/><circle cx="328.3" cy="836.5" r="0.8" fill="#bdbdc1"/><circle cx="329.2" cy="842.4" r="0.8" fill="#bdbdc1"/><circle cx="323.6" cy="829.5" r="0.8" fill="#bdbdc1"/><circle cx="335.3" cy="830.2" r="0.8" fill="#bdbdc1"/><circle cx="323.7" cy="838.6" r="0.8" fill="#bdbdc1"/><circle cx="327.3" cy="844.8" r="0.8" fill="#bdbdc1"/><circle cx="316.1" cy="835.0" r="0.8" fill="#bdbdc1"/><circle cx="312.6" cy="829.2" r="0.8" fill="#bdbdc1"/><circle cx="344.5" cy="828.3" r="0.8" fill="#bdbdc1"/><circle cx="316.4" cy="830.5" r="0.8" fill="#bdbdc1"/><circle cx="331.0" cy="840.7" r="0.8" fill="#bdbdc1"/><circle cx="317.0" cy="836.7" r="0.8" fill="#bdbdc1"/><circle cx="324.3" cy="841.6" r="0.8" fill="#bdbdc1"/><circle cx="312.1" cy="833.8" r="0.8" fill="#bdbdc1"/><circle cx="328.6" cy="841.0" r="0.8" fill="#bdbdc1"/><circle cx="330.8" cy="838.6" r="0.8" fill="#bdbdc1"/><circle cx="329.2" cy="844.5" r="0.8" fill="#bdbdc1"/><circle cx="323.7" cy="830.8" r="0.8" fill="#bdbdc1"/><circle cx="329.9" cy="833.3" r="0.8" fill="#bdbdc1"/><circle cx="320.5" cy="837.0" r="0.8" fill="#bdbdc1"/><circle cx="317.5" cy="837.7" r="0.8" fill="#bdbdc1"/><circle cx="344.9" cy="824.9" r="0.8" fill="#bdbdc1"/><circle cx="333.2" cy="840.0" r="0.8" fill="#bdbdc1"/><circle cx="328.3" cy="832.4" r="0.8" fill="#bdbdc1"/><circle cx="328.0" cy="844.7" r="0.8" fill="#bdbdc1"/><circle cx="320.2" cy="839.8" r="0.8" fill="#bdbdc1"/><circle cx="324.8" cy="826.1" r="0.8" fill="#bdbdc1"/><circle cx="335.9" cy="836.2" r="0.8" fill="#bdbdc1"/><circle cx="341.6" cy="825.5" r="0.8" fill="#bdbdc1"/><circle cx="325.0" cy="830.4" r="0.8" fill="#bdbdc1"/><circle cx="322.4" cy="841.2" r="0.8" fill="#bdbdc1"/><circle cx="329.3" cy="844.4" r="0.8" fill="#bdbdc1"/><circle cx="324.8" cy="826.7" r="0.8" fill="#bdbdc1"/><circle cx="309.7" cy="827.1" r="0.8" fill="#bdbdc1"/><circle cx="341.8" cy="829.8" r="0.8" fill="#bdbdc1"/><circle cx="348.9" cy="823.5" r="0.8" fill="#bdbdc1"/><circle cx="334.6" cy="837.9" r="0.8" fill="#bdbdc1"/><circle cx="323.4" cy="843.1" r="0.8" fill="#bdbdc1"/><circle cx="314.3" cy="834.6" r="0.8" fill="#bdbdc1"/><circle cx="320.5" cy="840.6" r="0.8" fill="#bdbdc1"/><circle cx="314.9" cy="825.6" r="0.8" fill="#bdbdc1"/><circle cx="322.9" cy="839.4" r="0.8" fill="#bdbdc1"/><circle cx="337.1" cy="834.4" r="0.8" fill="#bdbdc1"/><circle cx="319.6" cy="824.5" r="0.8" fill="#bdbdc1"/><circle cx="315.8" cy="828.6" r="0.8" fill="#bdbdc1"/><circle cx="320.2" cy="835.5" r="0.8" fill="#bdbdc1"/><circle cx="318.2" cy="836.7" r="0.8" fill="#bdbdc1"/><circle cx="334.4" cy="832.9" r="0.8" fill="#bdbdc1"/><circle cx="345.1" cy="827.9" r="0.8" fill="#bdbdc1"/><circle cx="322.5" cy="843.4" r="0.8" fill="#bdbdc1"/><circle cx="316.6" cy="825.3" r="0.8" fill="#bdbdc1"/><circle cx="317.7" cy="829.6" r="0.8" fill="#bdbdc1"/><circle cx="343.1" cy="827.1" r="0.8" fill="#bdbdc1"/><circle cx="322.3" cy="843.5" r="0.8" fill="#bdbdc1"/><circle cx="328.4" cy="837.4" r="0.8" fill="#bdbdc1"/><circle cx="327.8" cy="843.2" r="0.8" fill="#bdbdc1"/><circle cx="328.7" cy="844.9" r="0.8" fill="#bdbdc1"/><circle cx="321.9" cy="825.9" r="0.8" fill="#bdbdc1"/><circle cx="332.1" cy="832.4" r="0.8" fill="#bdbdc1"/><circle cx="328.9" cy="826.7" r="0.8" fill="#bdbdc1"/><circle cx="336.2" cy="830.8" r="0.8" fill="#bdbdc1"/><circle cx="319.7" cy="832.6" r="0.8" fill="#bdbdc1"/><circle cx="333.6" cy="834.4" r="0.8" fill="#bdbdc1"/><circle cx="301.8" cy="823.5" r="0.8" fill="#bdbdc1"/><circle cx="333.3" cy="824.5" r="0.8" fill="#bdbdc1"/><circle cx="324.6" cy="843.7" r="0.8" fill="#bdbdc1"/><circle cx="346.2" cy="825.1" r="0.8" fill="#bdbdc1"/><circle cx="330.6" cy="838.2" r="0.8" fill="#bdbdc1"/><circle cx="335.7" cy="834.9" r="0.8" fill="#bdbdc1"/><circle cx="306.5" cy="824.1" r="0.8" fill="#bdbdc1"/><circle cx="319.7" cy="826.4" r="0.8" fill="#bdbdc1"/><circle cx="305.0" cy="822.4" r="0.8" fill="#bdbdc1"/><circle cx="323.8" cy="824.0" r="0.8" fill="#bdbdc1"/><circle cx="327.0" cy="842.7" r="0.8" fill="#bdbdc1"/><circle cx="327.8" cy="845.9" r="0.8" fill="#bdbdc1"/><circle cx="324.6" cy="828.4" r="0.8" fill="#bdbdc1"/><circle cx="317.6" cy="839.0" r="0.8" fill="#bdbdc1"/><circle cx="321.5" cy="828.3" r="0.8" fill="#bdbdc1"/><circle cx="336.6" cy="829.5" r="0.8" fill="#bdbdc1"/><circle cx="337.4" cy="826.9" r="0.8" fill="#bdbdc1"/><circle cx="344.2" cy="826.3" r="0.8" fill="#bdbdc1"/><circle cx="325.4" cy="845.9" r="0.8" fill="#bdbdc1"/><circle cx="321.6" cy="839.6" r="0.8" fill="#bdbdc1"/><circle cx="329.1" cy="827.9" r="0.8" fill="#bdbdc1"/><circle cx="330.5" cy="841.7" r="0.8" fill="#bdbdc1"/><circle cx="338.8" cy="835.1" r="0.8" fill="#bdbdc1"/><circle cx="307.6" cy="829.4" r="0.8" fill="#bdbdc1"/><circle cx="318.4" cy="830.2" r="0.8" fill="#bdbdc1"/><circle cx="311.1" cy="830.3" r="0.8" fill="#bdbdc1"/><circle cx="338.0" cy="822.3" r="0.8" fill="#bdbdc1"/><circle cx="348.3" cy="823.3" r="0.8" fill="#bdbdc1"/><circle cx="332.4" cy="838.1" r="0.8" fill="#bdbdc1"/><circle cx="321.5" cy="838.6" r="0.8" fill="#bdbdc1"/><circle cx="327.1" cy="825.8" r="0.8" fill="#bdbdc1"/><circle cx="343.3" cy="830.7" r="0.8" fill="#bdbdc1"/><circle cx="325.0" cy="835.1" r="0.8" fill="#bdbdc1"/><circle cx="324.1" cy="843.2" r="0.8" fill="#bdbdc1"/><circle cx="329.2" cy="822.0" r="0.8" fill="#bdbdc1"/><circle cx="320.7" cy="828.7" r="0.8" fill="#bdbdc1"/><circle cx="323.7" cy="840.6" r="0.8" fill="#bdbdc1"/><circle cx="340.9" cy="824.2" r="0.8" fill="#bdbdc1"/><circle cx="331.9" cy="831.5" r="0.8" fill="#bdbdc1"/><circle cx="312.2" cy="827.6" r="0.8" fill="#bdbdc1"/><circle cx="333.0" cy="839.2" r="0.8" fill="#bdbdc1"/><circle cx="328.2" cy="839.3" r="0.8" fill="#bdbdc1"/><circle cx="325.1" cy="839.4" r="0.8" fill="#bdbdc1"/><circle cx="330.6" cy="842.0" r="0.8" fill="#bdbdc1"/><circle cx="320.5" cy="841.5" r="0.8" fill="#bdbdc1"/><circle cx="319.7" cy="840.1" r="0.8" fill="#bdbdc1"/><circle cx="324.4" cy="836.0" r="0.8" fill="#bdbdc1"/><circle cx="350.8" cy="823.0" r="0.8" fill="#bdbdc1"/><circle cx="336.2" cy="831.0" r="0.8" fill="#bdbdc1"/><circle cx="320.5" cy="837.1" r="0.8" fill="#bdbdc1"/><circle cx="306.1" cy="822.1" r="0.8" fill="#bdbdc1"/><circle cx="316.7" cy="834.1" r="0.8" fill="#bdbdc1"/><circle cx="333.1" cy="823.6" r="0.8" fill="#bdbdc1"/><circle cx="332.6" cy="823.8" r="0.8" fill="#bdbdc1"/><circle cx="320.3" cy="840.2" r="0.8" fill="#bdbdc1"/><circle cx="328.1" cy="845.4" r="0.8" fill="#bdbdc1"/><circle cx="345.4" cy="823.8" r="0.8" fill="#bdbdc1"/><circle cx="324.6" cy="836.8" r="0.8" fill="#bdbdc1"/><circle cx="341.5" cy="825.5" r="0.8" fill="#bdbdc1"/><circle cx="325.3" cy="838.6" r="0.8" fill="#bdbdc1"/><circle cx="350.7" cy="823.5" r="0.8" fill="#bdbdc1"/><circle cx="309.6" cy="824.4" r="0.8" fill="#bdbdc1"/><circle cx="335.6" cy="829.0" r="0.8" fill="#bdbdc1"/><circle cx="311.3" cy="833.2" r="0.8" fill="#bdbdc1"/><circle cx="338.8" cy="835.2" r="0.8" fill="#bdbdc1"/><circle cx="324.7" cy="844.5" r="0.8" fill="#bdbdc1"/><circle cx="350.8" cy="823.8" r="0.8" fill="#bdbdc1"/><circle cx="324.2" cy="831.3" r="0.8" fill="#bdbdc1"/><circle cx="349.5" cy="824.2" r="0.8" fill="#bdbdc1"/><circle cx="347.0" cy="825.2" r="0.8" fill="#bdbdc1"/><circle cx="321.3" cy="838.9" r="0.8" fill="#bdbdc1"/><circle cx="327.1" cy="843.0" r="0.8" fill="#bdbdc1"/><circle cx="344.6" cy="822.1" r="0.8" fill="#bdbdc1"/><circle cx="318.9" cy="831.7" r="0.8" fill="#bdbdc1"/><circle cx="311.6" cy="831.0" r="0.8" fill="#bdbdc1"/><circle cx="348.7" cy="822.0" r="0.8" fill="#bdbdc1"/><circle cx="309.1" cy="824.9" r="0.8" fill="#bdbdc1"/><circle cx="327.8" cy="843.6" r="0.8" fill="#bdbdc1"/><circle cx="351.2" cy="823.6" r="0.8" fill="#bdbdc1"/><circle cx="337.2" cy="836.1" r="0.8" fill="#bdbdc1"/><circle cx="323.5" cy="840.1" r="0.8" fill="#bdbdc1"/><circle cx="342.6" cy="823.2" r="0.8" fill="#bdbdc1"/><circle cx="336.7" cy="825.6" r="0.8" fill="#bdbdc1"/><circle cx="341.1" cy="829.6" r="0.8" fill="#bdbdc1"/><circle cx="313.1" cy="832.3" r="0.8" fill="#bdbdc1"/><circle cx="318.2" cy="837.1" r="0.8" fill="#bdbdc1"/><circle cx="338.1" cy="823.2" r="0.8" fill="#bdbdc1"/><circle cx="330.4" cy="840.1" r="0.8" fill="#bdbdc1"/><circle cx="324.9" cy="843.9" r="0.8" fill="#bdbdc1"/><circle cx="331.6" cy="832.0" r="0.8" fill="#bdbdc1"/><circle cx="330.0" cy="839.7" r="0.8" fill="#bdbdc1"/><circle cx="338.1" cy="827.7" r="0.8" fill="#bdbdc1"/><circle cx="315.1" cy="831.5" r="0.8" fill="#bdbdc1"/><circle cx="340.2" cy="823.8" r="0.8" fill="#bdbdc1"/><circle cx="341.4" cy="832.9" r="0.8" fill="#bdbdc1"/><circle cx="317.4" cy="832.8" r="0.8" fill="#bdbdc1"/><circle cx="318.6" cy="827.9" r="0.8" fill="#bdbdc1"/><circle cx="316.7" cy="824.2" r="0.8" fill="#bdbdc1"/><circle cx="320.5" cy="841.4" r="0.8" fill="#bdbdc1"/><circle cx="329.7" cy="840.0" r="0.8" fill="#bdbdc1"/><circle cx="322.7" cy="839.9" r="0.8" fill="#bdbdc1"/><circle cx="316.7" cy="830.1" r="0.8" fill="#bdbdc1"/><circle cx="328.4" cy="835.8" r="0.8" fill="#bdbdc1"/><circle cx="324.2" cy="834.1" r="0.8" fill="#bdbdc1"/><circle cx="328.3" cy="843.5" r="0.8" fill="#bdbdc1"/><circle cx="339.4" cy="832.7" r="0.8" fill="#bdbdc1"/><circle cx="324.9" cy="842.9" r="0.8" fill="#bdbdc1"/><circle cx="341.7" cy="832.2" r="0.8" fill="#bdbdc1"/><circle cx="320.1" cy="833.8" r="0.8" fill="#bdbdc1"/><circle cx="329.5" cy="844.2" r="0.8" fill="#bdbdc1"/><circle cx="321.0" cy="828.0" r="0.8" fill="#bdbdc1"/><circle cx="304.6" cy="825.6" r="0.8" fill="#bdbdc1"/><circle cx="327.7" cy="839.3" r="0.8" fill="#bdbdc1"/><circle cx="320.5" cy="840.6" r="0.8" fill="#bdbdc1"/><circle cx="312.5" cy="827.6" r="0.8" fill="#bdbdc1"/><circle cx="314.0" cy="829.3" r="0.8" fill="#bdbdc1"/><circle cx="335.8" cy="834.7" r="0.8" fill="#bdbdc1"/><circle cx="318.5" cy="824.7" r="0.8" fill="#bdbdc1"/><circle cx="324.6" cy="844.6" r="0.8" fill="#bdbdc1"/><circle cx="325.2" cy="827.4" r="0.8" fill="#bdbdc1"/><circle cx="332.1" cy="829.2" r="0.8" fill="#bdbdc1"/><circle cx="316.9" cy="829.6" r="0.8" fill="#bdbdc1"/><circle cx="324.8" cy="827.6" r="0.8" fill="#bdbdc1"/><circle cx="327.9" cy="831.9" r="0.8" fill="#bdbdc1"/><circle cx="328.7" cy="826.7" r="0.8" fill="#bdbdc1"/><circle cx="345.6" cy="827.5" r="0.8" fill="#bdbdc1"/><circle cx="311.4" cy="827.4" r="0.8" fill="#bdbdc1"/><circle cx="332.3" cy="839.2" r="0.8" fill="#bdbdc1"/><circle cx="342.5" cy="826.8" r="0.8" fill="#bdbdc1"/><circle cx="318.9" cy="834.1" r="0.8" fill="#bdbdc1"/><circle cx="320.6" cy="826.8" r="0.8" fill="#bdbdc1"/><circle cx="329.2" cy="827.3" r="0.8" fill="#bdbdc1"/><circle cx="316.3" cy="837.0" r="0.8" fill="#bdbdc1"/><circle cx="312.4" cy="833.6" r="0.8" fill="#bdbdc1"/><circle cx="328.2" cy="825.5" r="0.8" fill="#bdbdc1"/><circle cx="314.9" cy="822.6" r="0.8" fill="#bdbdc1"/><circle cx="322.2" cy="839.0" r="0.8" fill="#bdbdc1"/><circle cx="329.4" cy="843.6" r="0.8" fill="#bdbdc1"/><circle cx="325.1" cy="845.9" r="0.8" fill="#bdbdc1"/><circle cx="327.7" cy="826.5" r="0.8" fill="#bdbdc1"/><circle cx="334.7" cy="837.9" r="0.8" fill="#bdbdc1"/><circle cx="327.2" cy="845.6" r="0.8" fill="#bdbdc1"/><circle cx="329.1" cy="822.1" r="0.8" fill="#bdbdc1"/><circle cx="316.8" cy="832.1" r="0.8" fill="#bdbdc1"/><circle cx="329.4" cy="840.2" r="0.8" fill="#bdbdc1"/><circle cx="327.5" cy="841.7" r="0.8" fill="#bdbdc1"/><circle cx="322.4" cy="838.9" r="0.8" fill="#bdbdc1"/><circle cx="324.5" cy="844.1" r="0.8" fill="#bdbdc1"/><circle cx="327.2" cy="839.7" r="0.8" fill="#bdbdc1"/><circle cx="327.6" cy="831.9" r="0.8" fill="#bdbdc1"/><circle cx="305.3" cy="822.8" r="0.8" fill="#bdbdc1"/><circle cx="307.2" cy="823.5" r="0.8" fill="#bdbdc1"/><circle cx="328.2" cy="843.6" r="0.8" fill="#bdbdc1"/><circle cx="320.8" cy="830.0" r="0.8" fill="#bdbdc1"/><circle cx="334.2" cy="839.2" r="0.8" fill="#bdbdc1"/><circle cx="325.0" cy="829.1" r="0.8" fill="#bdbdc1"/><circle cx="341.3" cy="827.6" r="0.8" fill="#bdbdc1"/><circle cx="338.2" cy="833.2" r="0.8" fill="#bdbdc1"/><circle cx="327.4" cy="843.9" r="0.8" fill="#bdbdc1"/><circle cx="314.7" cy="833.9" r="0.8" fill="#bdbdc1"/><circle cx="321.0" cy="839.7" r="0.8" fill="#bdbdc1"/><circle cx="335.1" cy="829.9" r="0.8" fill="#bdbdc1"/><circle cx="322.3" cy="840.8" r="0.8" fill="#bdbdc1"/><circle cx="321.4" cy="831.4" r="0.8" fill="#bdbdc1"/><circle cx="313.7" cy="823.6" r="0.8" fill="#bdbdc1"/><circle cx="313.5" cy="835.1" r="0.8" fill="#bdbdc1"/><circle cx="324.4" cy="843.2" r="0.8" fill="#bdbdc1"/><circle cx="315.4" cy="824.0" r="0.8" fill="#bdbdc1"/><circle cx="327.2" cy="845.7" r="0.8" fill="#bdbdc1"/><circle cx="341.0" cy="825.2" r="0.8" fill="#bdbdc1"/><circle cx="318.5" cy="838.2" r="0.8" fill="#bdbdc1"/><circle cx="337.5" cy="829.1" r="0.8" fill="#bdbdc1"/><circle cx="330.3" cy="831.0" r="0.8" fill="#bdbdc1"/><circle cx="320.8" cy="827.9" r="0.8" fill="#bdbdc1"/><circle cx="319.3" cy="828.8" r="0.8" fill="#bdbdc1"/><circle cx="317.3" cy="831.5" r="0.8" fill="#bdbdc1"/><circle cx="312.3" cy="827.6" r="0.8" fill="#bdbdc1"/><circle cx="325.4" cy="845.8" r="0.8" fill="#bdbdc1"/><circle cx="322.3" cy="843.2" r="0.8" fill="#bdbdc1"/><circle cx="322.9" cy="843.9" r="0.8" fill="#bdbdc1"/><circle cx="321.6" cy="827.6" r="0.8" fill="#bdbdc1"/><circle cx="324.1" cy="845.4" r="0.8" fill="#bdbdc1"/><circle cx="318.0" cy="830.9" r="0.8" fill="#bdbdc1"/><circle cx="323.4" cy="828.2" r="0.8" fill="#bdbdc1"/><circle cx="329.4" cy="836.3" r="0.8" fill="#bdbdc1"/><circle cx="324.7" cy="830.8" r="0.8" fill="#bdbdc1"/><circle cx="325.0" cy="846.0" r="0.8" fill="#bdbdc1"/><circle cx="317.7" cy="837.6" r="0.8" fill="#bdbdc1"/><circle cx="330.6" cy="841.7" r="0.8" fill="#bdbdc1"/><circle cx="328.7" cy="826.4" r="0.8" fill="#bdbdc1"/><circle cx="340.8" cy="822.8" r="0.8" fill="#bdbdc1"/><circle cx="306.1" cy="823.5" r="0.8" fill="#bdbdc1"/><circle cx="319.5" cy="837.9" r="0.8" fill="#bdbdc1"/><circle cx="316.0" cy="824.2" r="0.8" fill="#bdbdc1"/><circle cx="339.7" cy="828.5" r="0.8" fill="#bdbdc1"/><circle cx="320.6" cy="832.0" r="0.8" fill="#bdbdc1"/><circle cx="331.8" cy="835.6" r="0.8" fill="#bdbdc1"/><circle cx="343.4" cy="822.4" r="0.8" fill="#bdbdc1"/><circle cx="330.3" cy="831.4" r="0.8" fill="#bdbdc1"/><circle cx="314.5" cy="822.1" r="0.8" fill="#bdbdc1"/><circle cx="330.0" cy="841.7" r="0.8" fill="#bdbdc1"/><circle cx="323.2" cy="830.8" r="0.8" fill="#bdbdc1"/><circle cx="309.6" cy="823.2" r="0.8" fill="#bdbdc1"/><circle cx="323.7" cy="843.8" r="0.8" fill="#bdbdc1"/><circle cx="325.0" cy="844.3" r="0.8" fill="#bdbdc1"/><circle cx="308.0" cy="828.8" r="0.8" fill="#bdbdc1"/><circle cx="344.5" cy="824.6" r="0.8" fill="#bdbdc1"/><circle cx="323.6" cy="841.0" r="0.8" fill="#bdbdc1"/><circle cx="320.7" cy="842.1" r="0.8" fill="#bdbdc1"/><circle cx="317.1" cy="833.6" r="0.8" fill="#bdbdc1"/><circle cx="316.5" cy="837.3" r="0.8" fill="#bdbdc1"/><circle cx="318.8" cy="836.9" r="0.8" fill="#bdbdc1"/><circle cx="329.7" cy="842.6" r="0.8" fill="#bdbdc1"/><circle cx="330.8" cy="826.7" r="0.8" fill="#bdbdc1"/><circle cx="346.1" cy="827.2" r="0.8" fill="#bdbdc1"/><circle cx="329.7" cy="825.8" r="0.8" fill="#bdbdc1"/><circle cx="324.6" cy="827.9" r="0.8" fill="#bdbdc1"/><circle cx="317.6" cy="835.5" r="0.8" fill="#bdbdc1"/><circle cx="337.6" cy="829.8" r="0.8" fill="#bdbdc1"/>
<path d="M319.8,786 L322.6,824 L309.5,824 Z" fill="#2f74c8"/>
<path d="M333.4,791 L341,824 L329.8,824 Z" fill="#d3392f"/>
<circle cx="302.5" cy="811.0" r="0.85" fill="#2b5e9e"/><circle cx="317.1" cy="794.6" r="0.85" fill="#2b5e9e"/><circle cx="308.8" cy="808.3" r="0.85" fill="#2b5e9e"/><circle cx="313.7" cy="796.6" r="0.85" fill="#2b5e9e"/><circle cx="319.5" cy="821.5" r="0.85" fill="#2b5e9e"/><circle cx="309.7" cy="800.4" r="0.85" fill="#2b5e9e"/><circle cx="320.1" cy="773.3" r="0.85" fill="#2b5e9e"/><circle cx="319.4" cy="791.4" r="0.85" fill="#2b5e9e"/><circle cx="315.2" cy="793.3" r="0.85" fill="#2b5e9e"/><circle cx="316.3" cy="814.2" r="0.85" fill="#2b5e9e"/><circle cx="316.5" cy="818.4" r="0.85" fill="#2b5e9e"/><circle cx="305.8" cy="811.2" r="0.85" fill="#2b5e9e"/><circle cx="301.9" cy="813.2" r="0.85" fill="#2b5e9e"/><circle cx="301.3" cy="799.9" r="0.85" fill="#2b5e9e"/><circle cx="319.4" cy="788.6" r="0.85" fill="#2b5e9e"/><circle cx="305.8" cy="812.1" r="0.85" fill="#2b5e9e"/><circle cx="296.0" cy="772.9" r="0.85" fill="#2b5e9e"/><circle cx="303.1" cy="779.3" r="0.85" fill="#2b5e9e"/><circle cx="298.2" cy="822.8" r="0.85" fill="#2b5e9e"/><circle cx="318.6" cy="805.9" r="0.85" fill="#2b5e9e"/><circle cx="305.2" cy="820.0" r="0.85" fill="#2b5e9e"/><circle cx="290.3" cy="806.0" r="0.85" fill="#2b5e9e"/><circle cx="309.1" cy="778.5" r="0.85" fill="#2b5e9e"/><circle cx="317.5" cy="819.3" r="0.85" fill="#2b5e9e"/><circle cx="307.6" cy="783.4" r="0.85" fill="#2b5e9e"/><circle cx="305.2" cy="770.3" r="0.85" fill="#2b5e9e"/><circle cx="318.2" cy="769.5" r="0.85" fill="#2b5e9e"/><circle cx="311.5" cy="796.2" r="0.85" fill="#2b5e9e"/><circle cx="313.5" cy="814.1" r="0.85" fill="#2b5e9e"/><circle cx="321.1" cy="788.5" r="0.85" fill="#2b5e9e"/><circle cx="320.8" cy="816.5" r="0.85" fill="#2b5e9e"/><circle cx="318.8" cy="807.8" r="0.85" fill="#2b5e9e"/><circle cx="301.6" cy="806.4" r="0.85" fill="#2b5e9e"/><circle cx="315.3" cy="812.9" r="0.85" fill="#2b5e9e"/><circle cx="320.9" cy="809.5" r="0.85" fill="#2b5e9e"/><circle cx="301.6" cy="815.8" r="0.85" fill="#2b5e9e"/><circle cx="303.1" cy="777.0" r="0.85" fill="#2b5e9e"/><circle cx="303.9" cy="810.6" r="0.85" fill="#2b5e9e"/><circle cx="317.3" cy="814.5" r="0.85" fill="#2b5e9e"/><circle cx="301.4" cy="822.1" r="0.85" fill="#2b5e9e"/><circle cx="301.4" cy="790.9" r="0.85" fill="#2b5e9e"/><circle cx="310.0" cy="810.8" r="0.85" fill="#2b5e9e"/><circle cx="321.0" cy="791.7" r="0.85" fill="#2b5e9e"/><circle cx="311.5" cy="779.7" r="0.85" fill="#2b5e9e"/><circle cx="296.0" cy="807.4" r="0.85" fill="#2b5e9e"/><circle cx="322.0" cy="781.2" r="0.85" fill="#2b5e9e"/><circle cx="302.7" cy="820.0" r="0.85" fill="#2b5e9e"/><circle cx="315.8" cy="801.7" r="0.85" fill="#2b5e9e"/><circle cx="318.6" cy="823.9" r="0.85" fill="#2b5e9e"/><circle cx="310.2" cy="790.5" r="0.85" fill="#2b5e9e"/><circle cx="306.1" cy="809.1" r="0.85" fill="#2b5e9e"/><circle cx="316.2" cy="814.3" r="0.85" fill="#2b5e9e"/><circle cx="319.4" cy="780.8" r="0.85" fill="#2b5e9e"/><circle cx="321.4" cy="823.7" r="0.85" fill="#2b5e9e"/><circle cx="318.1" cy="812.8" r="0.85" fill="#2b5e9e"/><circle cx="315.8" cy="807.3" r="0.85" fill="#2b5e9e"/><circle cx="305.2" cy="803.9" r="0.85" fill="#2b5e9e"/><circle cx="316.5" cy="783.8" r="0.85" fill="#2b5e9e"/><circle cx="314.5" cy="821.5" r="0.85" fill="#2b5e9e"/><circle cx="312.2" cy="815.3" r="0.85" fill="#2b5e9e"/><circle cx="318.5" cy="813.1" r="0.85" fill="#2b5e9e"/><circle cx="302.9" cy="777.6" r="0.85" fill="#2b5e9e"/><circle cx="319.4" cy="794.2" r="0.85" fill="#2b5e9e"/><circle cx="322.3" cy="819.5" r="0.85" fill="#2b5e9e"/><circle cx="310.7" cy="793.5" r="0.85" fill="#2b5e9e"/><circle cx="309.8" cy="789.1" r="0.85" fill="#2b5e9e"/><circle cx="289.4" cy="799.6" r="0.85" fill="#2b5e9e"/><circle cx="321.3" cy="801.4" r="0.85" fill="#2b5e9e"/><circle cx="318.8" cy="818.9" r="0.85" fill="#2b5e9e"/><circle cx="307.5" cy="818.0" r="0.85" fill="#2b5e9e"/><circle cx="322.1" cy="813.6" r="0.85" fill="#2b5e9e"/><circle cx="322.1" cy="819.3" r="0.85" fill="#2b5e9e"/><circle cx="316.2" cy="808.4" r="0.85" fill="#2b5e9e"/><circle cx="308.6" cy="801.6" r="0.85" fill="#2b5e9e"/><circle cx="305.2" cy="781.3" r="0.85" fill="#2b5e9e"/><circle cx="316.6" cy="801.0" r="0.85" fill="#2b5e9e"/><circle cx="321.0" cy="815.0" r="0.85" fill="#2b5e9e"/><circle cx="302.4" cy="790.4" r="0.85" fill="#2b5e9e"/><circle cx="322.1" cy="820.7" r="0.85" fill="#2b5e9e"/><circle cx="308.6" cy="782.9" r="0.85" fill="#2b5e9e"/><circle cx="298.4" cy="813.3" r="0.85" fill="#2b5e9e"/><circle cx="312.2" cy="817.7" r="0.85" fill="#2b5e9e"/><circle cx="313.9" cy="810.6" r="0.85" fill="#2b5e9e"/><circle cx="309.3" cy="817.4" r="0.85" fill="#2b5e9e"/><circle cx="322.4" cy="777.8" r="0.85" fill="#2b5e9e"/><circle cx="309.2" cy="784.9" r="0.85" fill="#2b5e9e"/><circle cx="320.6" cy="786.1" r="0.85" fill="#2b5e9e"/><circle cx="298.2" cy="803.3" r="0.85" fill="#2b5e9e"/><circle cx="310.8" cy="820.6" r="0.85" fill="#2b5e9e"/><circle cx="310.9" cy="821.8" r="0.85" fill="#2b5e9e"/><circle cx="320.3" cy="774.7" r="0.85" fill="#2b5e9e"/><circle cx="299.1" cy="807.1" r="0.85" fill="#2b5e9e"/><circle cx="308.1" cy="769.3" r="0.85" fill="#2b5e9e"/><circle cx="317.2" cy="804.5" r="0.85" fill="#2b5e9e"/><circle cx="304.8" cy="800.8" r="0.85" fill="#2b5e9e"/><circle cx="314.7" cy="782.4" r="0.85" fill="#2b5e9e"/><circle cx="305.8" cy="819.6" r="0.85" fill="#2b5e9e"/><circle cx="310.1" cy="784.8" r="0.85" fill="#2b5e9e"/><circle cx="312.4" cy="798.9" r="0.85" fill="#2b5e9e"/><circle cx="319.4" cy="785.5" r="0.85" fill="#2b5e9e"/><circle cx="318.8" cy="804.6" r="0.85" fill="#2b5e9e"/><circle cx="318.2" cy="815.6" r="0.85" fill="#2b5e9e"/><circle cx="315.4" cy="815.1" r="0.85" fill="#2b5e9e"/><circle cx="315.5" cy="821.6" r="0.85" fill="#2b5e9e"/><circle cx="310.1" cy="812.1" r="0.85" fill="#2b5e9e"/><circle cx="320.2" cy="818.4" r="0.85" fill="#2b5e9e"/><circle cx="300.2" cy="812.1" r="0.85" fill="#2b5e9e"/><circle cx="307.0" cy="789.4" r="0.85" fill="#2b5e9e"/><circle cx="322.0" cy="813.0" r="0.85" fill="#2b5e9e"/><circle cx="310.5" cy="808.7" r="0.85" fill="#2b5e9e"/><circle cx="311.1" cy="773.4" r="0.85" fill="#2b5e9e"/><circle cx="318.2" cy="817.0" r="0.85" fill="#2b5e9e"/><circle cx="300.1" cy="774.9" r="0.85" fill="#2b5e9e"/><circle cx="315.8" cy="819.1" r="0.85" fill="#2b5e9e"/><circle cx="320.5" cy="809.9" r="0.85" fill="#2b5e9e"/><circle cx="294.1" cy="811.5" r="0.85" fill="#2b5e9e"/><circle cx="336.5" cy="792.5" r="0.85" fill="#b3302c"/><circle cx="337.7" cy="793.8" r="0.85" fill="#b3302c"/><circle cx="331.3" cy="813.3" r="0.85" fill="#b3302c"/><circle cx="346.5" cy="800.7" r="0.85" fill="#b3302c"/><circle cx="332.9" cy="803.8" r="0.85" fill="#b3302c"/><circle cx="332.2" cy="821.7" r="0.85" fill="#b3302c"/><circle cx="330.4" cy="804.5" r="0.85" fill="#b3302c"/><circle cx="332.5" cy="801.5" r="0.85" fill="#b3302c"/><circle cx="353.4" cy="822.9" r="0.85" fill="#b3302c"/><circle cx="332.2" cy="819.9" r="0.85" fill="#b3302c"/><circle cx="341.0" cy="810.6" r="0.85" fill="#b3302c"/><circle cx="331.6" cy="802.1" r="0.85" fill="#b3302c"/><circle cx="334.2" cy="795.4" r="0.85" fill="#b3302c"/><circle cx="335.0" cy="777.3" r="0.85" fill="#b3302c"/><circle cx="348.7" cy="800.0" r="0.85" fill="#b3302c"/><circle cx="330.3" cy="822.9" r="0.85" fill="#b3302c"/><circle cx="336.0" cy="785.2" r="0.85" fill="#b3302c"/><circle cx="331.1" cy="823.7" r="0.85" fill="#b3302c"/><circle cx="343.9" cy="822.4" r="0.85" fill="#b3302c"/><circle cx="332.2" cy="809.3" r="0.85" fill="#b3302c"/><circle cx="341.1" cy="823.2" r="0.85" fill="#b3302c"/><circle cx="334.6" cy="807.8" r="0.85" fill="#b3302c"/><circle cx="339.2" cy="817.2" r="0.85" fill="#b3302c"/><circle cx="334.1" cy="787.7" r="0.85" fill="#b3302c"/><circle cx="335.8" cy="823.9" r="0.85" fill="#b3302c"/><circle cx="333.2" cy="816.5" r="0.85" fill="#b3302c"/><circle cx="334.4" cy="788.0" r="0.85" fill="#b3302c"/><circle cx="333.9" cy="791.2" r="0.85" fill="#b3302c"/><circle cx="337.5" cy="804.9" r="0.85" fill="#b3302c"/><circle cx="349.9" cy="793.0" r="0.85" fill="#b3302c"/><circle cx="351.5" cy="798.1" r="0.85" fill="#b3302c"/><circle cx="338.1" cy="821.4" r="0.85" fill="#b3302c"/><circle cx="341.7" cy="823.8" r="0.85" fill="#b3302c"/><circle cx="336.5" cy="812.3" r="0.85" fill="#b3302c"/><circle cx="344.3" cy="816.8" r="0.85" fill="#b3302c"/><circle cx="330.6" cy="783.9" r="0.85" fill="#b3302c"/><circle cx="336.7" cy="806.3" r="0.85" fill="#b3302c"/><circle cx="333.2" cy="811.6" r="0.85" fill="#b3302c"/><circle cx="339.8" cy="794.5" r="0.85" fill="#b3302c"/><circle cx="330.4" cy="809.4" r="0.85" fill="#b3302c"/><circle cx="349.2" cy="808.5" r="0.85" fill="#b3302c"/><circle cx="335.5" cy="818.1" r="0.85" fill="#b3302c"/><circle cx="354.3" cy="812.2" r="0.85" fill="#b3302c"/><circle cx="330.6" cy="808.4" r="0.85" fill="#b3302c"/><circle cx="335.9" cy="788.5" r="0.85" fill="#b3302c"/><circle cx="333.9" cy="812.4" r="0.85" fill="#b3302c"/><circle cx="335.0" cy="809.0" r="0.85" fill="#b3302c"/><circle cx="336.7" cy="798.1" r="0.85" fill="#b3302c"/><circle cx="335.7" cy="805.9" r="0.85" fill="#b3302c"/><circle cx="330.7" cy="813.0" r="0.85" fill="#b3302c"/><circle cx="335.4" cy="821.4" r="0.85" fill="#b3302c"/><circle cx="355.7" cy="778.2" r="0.85" fill="#b3302c"/><circle cx="335.4" cy="786.5" r="0.85" fill="#b3302c"/><circle cx="337.3" cy="817.7" r="0.85" fill="#b3302c"/><circle cx="333.7" cy="815.3" r="0.85" fill="#b3302c"/><circle cx="333.2" cy="801.1" r="0.85" fill="#b3302c"/><circle cx="341.8" cy="818.9" r="0.85" fill="#b3302c"/><circle cx="334.7" cy="788.3" r="0.85" fill="#b3302c"/><circle cx="347.0" cy="823.9" r="0.85" fill="#b3302c"/><circle cx="336.5" cy="821.0" r="0.85" fill="#b3302c"/><circle cx="339.7" cy="809.2" r="0.85" fill="#b3302c"/><circle cx="344.2" cy="810.7" r="0.85" fill="#b3302c"/><circle cx="330.1" cy="798.9" r="0.85" fill="#b3302c"/><circle cx="332.6" cy="785.9" r="0.85" fill="#b3302c"/><circle cx="345.1" cy="795.7" r="0.85" fill="#b3302c"/><circle cx="337.2" cy="779.3" r="0.85" fill="#b3302c"/><circle cx="337.4" cy="792.9" r="0.85" fill="#b3302c"/><circle cx="340.0" cy="818.1" r="0.85" fill="#b3302c"/><circle cx="333.8" cy="816.1" r="0.85" fill="#b3302c"/><circle cx="348.3" cy="803.7" r="0.85" fill="#b3302c"/><circle cx="333.9" cy="791.1" r="0.85" fill="#b3302c"/><circle cx="330.0" cy="798.8" r="0.85" fill="#b3302c"/><circle cx="346.1" cy="814.7" r="0.85" fill="#b3302c"/><circle cx="345.2" cy="804.6" r="0.85" fill="#b3302c"/><circle cx="336.9" cy="817.5" r="0.85" fill="#b3302c"/><circle cx="341.8" cy="789.6" r="0.85" fill="#b3302c"/><circle cx="340.7" cy="806.1" r="0.85" fill="#b3302c"/><circle cx="333.3" cy="822.9" r="0.85" fill="#b3302c"/><circle cx="336.8" cy="820.2" r="0.85" fill="#b3302c"/><circle cx="335.5" cy="822.7" r="0.85" fill="#b3302c"/><circle cx="343.4" cy="810.5" r="0.85" fill="#b3302c"/><circle cx="332.9" cy="795.8" r="0.85" fill="#b3302c"/><circle cx="344.5" cy="789.4" r="0.85" fill="#b3302c"/><circle cx="342.2" cy="820.6" r="0.85" fill="#b3302c"/><circle cx="337.8" cy="818.7" r="0.85" fill="#b3302c"/><circle cx="334.8" cy="802.0" r="0.85" fill="#b3302c"/><circle cx="330.5" cy="811.8" r="0.85" fill="#b3302c"/><circle cx="341.2" cy="821.8" r="0.85" fill="#b3302c"/><circle cx="339.0" cy="817.3" r="0.85" fill="#b3302c"/><circle cx="331.6" cy="821.7" r="0.85" fill="#b3302c"/><circle cx="340.9" cy="811.7" r="0.85" fill="#b3302c"/><circle cx="333.6" cy="802.8" r="0.85" fill="#b3302c"/><circle cx="330.8" cy="807.0" r="0.85" fill="#b3302c"/><circle cx="338.3" cy="821.1" r="0.85" fill="#b3302c"/>
<path d="M430.4,807.8 Q429.9,809.4 428.3,809.8 Q426.6,810.2 424.6,809.8 Q422.5,809.4 420.4,808.3 Q418.2,807.2 416.0,805.7 Q413.7,804.2 411.9,801.9 Q410.1,799.7 409.2,797.3 Q408.2,795.0 408.2,793.0 Q408.1,791.1 408.7,789.6 Q409.4,788.1 411.0,787.7 Q412.6,787.3 414.4,787.0 Q416.2,786.8 418.5,788.3 Q420.8,789.8 423.0,791.4 Q425.2,793.1 427.0,795.3 Q428.9,797.5 429.9,799.9 Q431.0,802.3 431.0,804.2 Q430.9,806.1 430.4,807.8 Z" fill="#f29458"/>
<path d="M472.8,797.4 Q472.5,799.2 472.6,801.0 Q472.7,802.8 471.3,804.0 Q470.0,805.2 469.4,807.2 Q468.9,809.2 466.9,809.4 Q464.9,809.6 463.1,810.6 Q461.4,811.6 459.7,810.5 Q458.0,809.4 456.4,808.8 Q454.7,808.1 453.6,806.8 Q452.5,805.5 451.5,804.1 Q450.4,802.7 450.5,800.9 Q450.6,799.2 451.1,797.7 Q451.7,796.1 451.5,794.1 Q451.4,792.1 453.1,791.3 Q454.9,790.5 456.5,789.8 Q458.0,789.1 459.7,788.7 Q461.4,788.4 463.2,788.4 Q465.0,788.4 466.6,789.3 Q468.2,790.1 469.7,791.2 Q471.2,792.3 472.1,793.9 Q473.0,795.5 472.8,797.4 Z" fill="#8eaae2"/>
<path d="M492.5,803.5 Q494,797.6 501,797.8 Q506,797.4 508,791.5 Q510,787 513.6,788.4 Q517.2,792 515.6,800 Q513,808.6 503,811.2 Q494.5,812.2 492.5,806.5 Z" fill="#a9c971" stroke="#93b45d" stroke-width="0.8"/>
<path d="M429.2,837.5 Q429.4,839.4 429.8,841.6 Q430.2,843.7 429.4,845.6 Q428.6,847.5 426.8,848.1 Q425.1,848.6 424.2,850.6 Q423.2,852.5 421.6,852.9 Q420.0,853.4 418.4,852.9 Q416.8,852.4 415.8,850.6 Q414.8,848.8 413.1,848.2 Q411.5,847.5 411.0,845.5 Q410.4,843.5 410.9,841.4 Q411.4,839.4 411.6,837.7 Q411.8,835.9 411.5,833.5 Q411.3,831.1 412.7,829.9 Q414.1,828.7 415.6,828.3 Q417.2,828.0 418.6,827.9 Q420.0,827.9 421.4,828.1 Q422.8,828.3 424.1,829.0 Q425.4,829.7 426.9,830.6 Q428.4,831.4 428.7,833.5 Q428.9,835.6 429.2,837.5 Z" fill="#7867b9"/>
<path d="M452,832 Q455,827.5 461.5,829 Q467,832 469,840 Q471,846 474.8,851.5 Q468,852.5 461,848 Q453,844 452,838 Z" fill="#e07c9b"/>
<path d="M496,834 Q499,827 507,826.7 Q514,827 515.5,832 L510,834 Q506,836 508.5,839.5 L516.5,841 Q516,846 510,846 Q507,851 502,850.8 Q498,848 498,844 Q494,840 496,834 Z" fill="#0f5b5b"/>
</svg>
</body></html>
